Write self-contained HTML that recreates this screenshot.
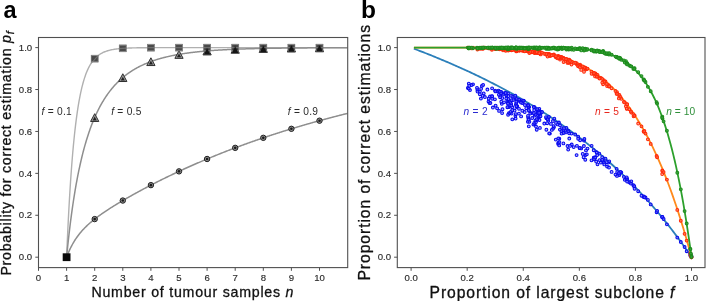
<!DOCTYPE html>
<html><head><meta charset="utf-8"><title>figure</title>
<style>
html,body{margin:0;padding:0;background:#fff;width:707px;height:301px;overflow:hidden}
body{font-family:"Liberation Sans",sans-serif;position:relative}
</style></head>
<body>
<svg width="707" height="301" viewBox="0 0 707 301" style="display:block;position:absolute;left:0;top:0;will-change:transform">
<rect x="0" y="0" width="707" height="301" fill="#ffffff"/>
<defs><clipPath id="cl"><rect x="38.5" y="37.5" width="309.2" height="230.1"/></clipPath>
<clipPath id="cr"><rect x="397.3" y="37.5" width="307.7" height="230.1"/></clipPath></defs>
<polyline clip-path="url(#cl)" fill="none" stroke="#b0b0b0" stroke-width="1.4" stroke-linejoin="round" points="66.60,257.20 67.16,244.04 67.72,231.79 68.29,220.36 68.85,209.69 69.41,199.74 69.97,190.45 70.53,181.76 71.10,173.64 71.66,166.05 72.22,158.95 72.78,152.30 73.34,146.08 73.91,140.25 74.47,134.79 75.03,129.67 75.59,124.87 76.15,120.36 76.72,116.14 77.28,112.17 77.84,108.44 78.40,104.95 78.96,101.66 79.53,98.57 80.09,95.67 80.65,92.94 81.21,90.37 81.77,87.96 82.34,85.69 82.90,83.55 83.46,81.54 84.02,79.64 84.58,77.86 85.15,76.18 85.71,74.59 86.27,73.10 86.83,71.70 87.39,70.37 87.96,69.12 88.52,67.94 89.08,66.83 89.64,65.78 90.20,64.79 90.77,63.86 91.33,62.98 91.89,62.14 92.45,61.36 93.01,60.62 93.58,59.92 94.14,59.26 94.70,58.63 95.26,58.04 95.82,57.48 96.39,56.96 96.95,56.46 97.51,55.99 98.07,55.54 98.63,55.12 99.20,54.72 99.76,54.35 100.32,53.99 100.88,53.66 101.44,53.34 102.01,53.04 102.57,52.75 103.13,52.48 103.69,52.23 104.25,51.98 104.82,51.76 105.38,51.54 105.94,51.33 106.50,51.14 107.06,50.96 107.63,50.78 108.19,50.62 108.75,50.46 109.31,50.31 109.87,50.17 110.44,50.04 111.00,49.92 111.56,49.80 112.12,49.68 112.68,49.58 113.25,49.48 113.81,49.38 114.37,49.29 114.93,49.20 115.49,49.12 116.06,49.04 116.62,48.97 117.18,48.90 117.74,48.83 118.30,48.77 118.87,48.71 119.43,48.66 119.99,48.60 120.55,48.55 121.11,48.50 121.68,48.46 122.24,48.41 122.80,48.37 123.36,48.33 123.92,48.30 124.49,48.26 125.05,48.23 125.61,48.20 126.17,48.17 126.73,48.14 127.30,48.11 127.86,48.09 128.42,48.06 128.98,48.04 129.54,48.02 130.11,48.00 130.67,47.98 131.23,47.96 131.79,47.94 132.35,47.92 132.92,47.91 133.48,47.89 134.04,47.88 134.60,47.86 135.16,47.85 135.73,47.84 136.29,47.83 136.85,47.81 137.41,47.80 137.97,47.79 138.54,47.78 139.10,47.78 139.66,47.77 140.22,47.76 140.78,47.75 141.35,47.74 141.91,47.74 142.47,47.73 143.03,47.72 143.59,47.72 144.16,47.71 144.72,47.71 145.28,47.70 145.84,47.70 146.40,47.69 146.97,47.69 147.53,47.68 148.09,47.68 148.65,47.67 149.21,47.67 149.78,47.67 150.34,47.66 150.90,47.66 151.46,47.66 152.02,47.66 152.59,47.65 153.15,47.65 153.71,47.65 154.27,47.65 154.83,47.64 155.40,47.64 155.96,47.64 156.52,47.64 157.08,47.64 157.64,47.63 158.21,47.63 158.77,47.63 159.33,47.63 159.89,47.63 160.45,47.63 161.02,47.62 161.58,47.62 162.14,47.62 162.70,47.62 163.26,47.62 163.83,47.62 164.39,47.62 164.95,47.62 165.51,47.62 166.07,47.62 166.64,47.62 167.20,47.61 167.76,47.61 168.32,47.61 168.88,47.61 169.45,47.61 170.01,47.61 170.57,47.61 171.13,47.61 171.69,47.61 172.26,47.61 172.82,47.61 173.38,47.61 173.94,47.61 174.50,47.61 175.07,47.61 175.63,47.61 176.19,47.61 176.75,47.61 177.31,47.61 177.88,47.61 178.44,47.61 179.00,47.61 179.56,47.60 180.12,47.60 180.69,47.60 181.25,47.60 181.81,47.60 182.37,47.60 182.93,47.60 183.50,47.60 184.06,47.60 184.62,47.60 185.18,47.60 185.74,47.60 186.31,47.60 186.87,47.60 187.43,47.60 187.99,47.60 188.55,47.60 189.12,47.60 189.68,47.60 190.24,47.60 190.80,47.60 191.36,47.60 191.93,47.60 192.49,47.60 193.05,47.60 193.61,47.60 194.17,47.60 194.74,47.60 195.30,47.60 195.86,47.60 196.42,47.60 196.98,47.60 197.55,47.60 198.11,47.60 198.67,47.60 199.23,47.60 199.79,47.60 200.36,47.60 200.92,47.60 201.48,47.60 202.04,47.60 202.60,47.60 203.17,47.60 203.73,47.60 204.29,47.60 204.85,47.60 205.41,47.60 205.98,47.60 206.54,47.60 207.10,47.60 207.66,47.60 208.22,47.60 208.79,47.60 209.35,47.60 209.91,47.60 210.47,47.60 211.03,47.60 211.60,47.60 212.16,47.60 212.72,47.60 213.28,47.60 213.84,47.60 214.41,47.60 214.97,47.60 215.53,47.60 216.09,47.60 216.65,47.60 217.22,47.60 217.78,47.60 218.34,47.60 218.90,47.60 219.46,47.60 220.03,47.60 220.59,47.60 221.15,47.60 221.71,47.60 222.27,47.60 222.84,47.60 223.40,47.60 223.96,47.60 224.52,47.60 225.08,47.60 225.65,47.60 226.21,47.60 226.77,47.60 227.33,47.60 227.89,47.60 228.46,47.60 229.02,47.60 229.58,47.60 230.14,47.60 230.70,47.60 231.27,47.60 231.83,47.60 232.39,47.60 232.95,47.60 233.51,47.60 234.08,47.60 234.64,47.60 235.20,47.60 235.76,47.60 236.32,47.60 236.89,47.60 237.45,47.60 238.01,47.60 238.57,47.60 239.13,47.60 239.70,47.60 240.26,47.60 240.82,47.60 241.38,47.60 241.94,47.60 242.51,47.60 243.07,47.60 243.63,47.60 244.19,47.60 244.75,47.60 245.32,47.60 245.88,47.60 246.44,47.60 247.00,47.60 247.56,47.60 248.13,47.60 248.69,47.60 249.25,47.60 249.81,47.60 250.37,47.60 250.94,47.60 251.50,47.60 252.06,47.60 252.62,47.60 253.18,47.60 253.75,47.60 254.31,47.60 254.87,47.60 255.43,47.60 255.99,47.60 256.56,47.60 257.12,47.60 257.68,47.60 258.24,47.60 258.80,47.60 259.37,47.60 259.93,47.60 260.49,47.60 261.05,47.60 261.61,47.60 262.18,47.60 262.74,47.60 263.30,47.60 263.86,47.60 264.42,47.60 264.99,47.60 265.55,47.60 266.11,47.60 266.67,47.60 267.23,47.60 267.80,47.60 268.36,47.60 268.92,47.60 269.48,47.60 270.04,47.60 270.61,47.60 271.17,47.60 271.73,47.60 272.29,47.60 272.85,47.60 273.42,47.60 273.98,47.60 274.54,47.60 275.10,47.60 275.66,47.60 276.23,47.60 276.79,47.60 277.35,47.60 277.91,47.60 278.47,47.60 279.04,47.60 279.60,47.60 280.16,47.60 280.72,47.60 281.28,47.60 281.85,47.60 282.41,47.60 282.97,47.60 283.53,47.60 284.09,47.60 284.66,47.60 285.22,47.60 285.78,47.60 286.34,47.60 286.90,47.60 287.47,47.60 288.03,47.60 288.59,47.60 289.15,47.60 289.71,47.60 290.28,47.60 290.84,47.60 291.40,47.60 291.96,47.60 292.52,47.60 293.09,47.60 293.65,47.60 294.21,47.60 294.77,47.60 295.33,47.60 295.90,47.60 296.46,47.60 297.02,47.60 297.58,47.60 298.14,47.60 298.71,47.60 299.27,47.60 299.83,47.60 300.39,47.60 300.95,47.60 301.52,47.60 302.08,47.60 302.64,47.60 303.20,47.60 303.76,47.60 304.33,47.60 304.89,47.60 305.45,47.60 306.01,47.60 306.57,47.60 307.14,47.60 307.70,47.60 308.26,47.60 308.82,47.60 309.38,47.60 309.95,47.60 310.51,47.60 311.07,47.60 311.63,47.60 312.19,47.60 312.76,47.60 313.32,47.60 313.88,47.60 314.44,47.60 315.00,47.60 315.57,47.60 316.13,47.60 316.69,47.60 317.25,47.60 317.81,47.60 318.38,47.60 318.94,47.60 319.50,47.60 320.06,47.60 320.62,47.60 321.19,47.60 321.75,47.60 322.31,47.60 322.87,47.60 323.43,47.60 324.00,47.60 324.56,47.60 325.12,47.60 325.68,47.60 326.24,47.60 326.81,47.60 327.37,47.60 327.93,47.60 328.49,47.60 329.05,47.60 329.62,47.60 330.18,47.60 330.74,47.60 331.30,47.60 331.86,47.60 332.43,47.60 332.99,47.60 333.55,47.60 334.11,47.60 334.67,47.60 335.24,47.60 335.80,47.60 336.36,47.60 336.92,47.60 337.48,47.60 338.05,47.60 338.61,47.60 339.17,47.60 339.73,47.60 340.29,47.60 340.86,47.60 341.42,47.60 341.98,47.60 342.54,47.60 343.10,47.60 343.67,47.60 344.23,47.60 344.79,47.60 345.35,47.60 345.91,47.60 346.48,47.60 347.04,47.60 347.60,47.60"/>
<polyline clip-path="url(#cl)" fill="none" stroke="#8e8e8e" stroke-width="1.5" stroke-linejoin="round" points="66.60,257.20 67.16,251.51 67.72,246.04 68.29,240.79 68.85,235.74 69.41,230.89 69.97,226.22 70.53,221.71 71.10,217.38 71.66,213.19 72.22,209.15 72.78,205.26 73.34,201.49 73.91,197.86 74.47,194.34 75.03,190.94 75.59,187.65 76.15,184.46 76.72,181.37 77.28,178.38 77.84,175.48 78.40,172.67 78.96,169.94 79.53,167.30 80.09,164.73 80.65,162.23 81.21,159.81 81.77,157.46 82.34,155.17 82.90,152.94 83.46,150.78 84.02,148.67 84.58,146.62 85.15,144.63 85.71,142.69 86.27,140.80 86.83,138.95 87.39,137.16 87.96,135.41 88.52,133.70 89.08,132.04 89.64,130.42 90.20,128.84 90.77,127.29 91.33,125.79 91.89,124.32 92.45,122.88 93.01,121.48 93.58,120.11 94.14,118.77 94.70,117.47 95.26,116.19 95.82,114.94 96.39,113.72 96.95,112.53 97.51,111.36 98.07,110.22 98.63,109.11 99.20,108.02 99.76,106.95 100.32,105.91 100.88,104.88 101.44,103.88 102.01,102.90 102.57,101.95 103.13,101.01 103.69,100.09 104.25,99.19 104.82,98.31 105.38,97.44 105.94,96.59 106.50,95.76 107.06,94.95 107.63,94.16 108.19,93.37 108.75,92.61 109.31,91.86 109.87,91.12 110.44,90.40 111.00,89.69 111.56,89.00 112.12,88.32 112.68,87.65 113.25,87.00 113.81,86.35 114.37,85.72 114.93,85.10 115.49,84.50 116.06,83.90 116.62,83.32 117.18,82.74 117.74,82.18 118.30,81.62 118.87,81.08 119.43,80.55 119.99,80.02 120.55,79.51 121.11,79.00 121.68,78.51 122.24,78.02 122.80,77.54 123.36,77.07 123.92,76.61 124.49,76.16 125.05,75.71 125.61,75.27 126.17,74.84 126.73,74.42 127.30,74.00 127.86,73.60 128.42,73.19 128.98,72.80 129.54,72.41 130.11,72.03 130.67,71.65 131.23,71.29 131.79,70.92 132.35,70.57 132.92,70.22 133.48,69.87 134.04,69.53 134.60,69.20 135.16,68.87 135.73,68.55 136.29,68.23 136.85,67.92 137.41,67.62 137.97,67.31 138.54,67.02 139.10,66.73 139.66,66.44 140.22,66.16 140.78,65.88 141.35,65.61 141.91,65.34 142.47,65.07 143.03,64.81 143.59,64.56 144.16,64.30 144.72,64.06 145.28,63.81 145.84,63.57 146.40,63.34 146.97,63.10 147.53,62.87 148.09,62.65 148.65,62.43 149.21,62.21 149.78,61.99 150.34,61.78 150.90,61.57 151.46,61.37 152.02,61.17 152.59,60.97 153.15,60.77 153.71,60.58 154.27,60.39 154.83,60.20 155.40,60.02 155.96,59.84 156.52,59.66 157.08,59.48 157.64,59.31 158.21,59.14 158.77,58.97 159.33,58.81 159.89,58.65 160.45,58.49 161.02,58.33 161.58,58.17 162.14,58.02 162.70,57.87 163.26,57.72 163.83,57.58 164.39,57.43 164.95,57.29 165.51,57.15 166.07,57.01 166.64,56.88 167.20,56.75 167.76,56.61 168.32,56.49 168.88,56.36 169.45,56.23 170.01,56.11 170.57,55.99 171.13,55.87 171.69,55.75 172.26,55.63 172.82,55.52 173.38,55.40 173.94,55.29 174.50,55.18 175.07,55.07 175.63,54.97 176.19,54.86 176.75,54.76 177.31,54.66 177.88,54.56 178.44,54.46 179.00,54.36 179.56,54.27 180.12,54.17 180.69,54.08 181.25,53.99 181.81,53.89 182.37,53.81 182.93,53.72 183.50,53.63 184.06,53.55 184.62,53.46 185.18,53.38 185.74,53.30 186.31,53.22 186.87,53.14 187.43,53.06 187.99,52.98 188.55,52.91 189.12,52.83 189.68,52.76 190.24,52.68 190.80,52.61 191.36,52.54 191.93,52.47 192.49,52.40 193.05,52.34 193.61,52.27 194.17,52.20 194.74,52.14 195.30,52.08 195.86,52.01 196.42,51.95 196.98,51.89 197.55,51.83 198.11,51.77 198.67,51.71 199.23,51.65 199.79,51.60 200.36,51.54 200.92,51.49 201.48,51.43 202.04,51.38 202.60,51.32 203.17,51.27 203.73,51.22 204.29,51.17 204.85,51.12 205.41,51.07 205.98,51.02 206.54,50.97 207.10,50.93 207.66,50.88 208.22,50.83 208.79,50.79 209.35,50.74 209.91,50.70 210.47,50.66 211.03,50.61 211.60,50.57 212.16,50.53 212.72,50.49 213.28,50.45 213.84,50.41 214.41,50.37 214.97,50.33 215.53,50.29 216.09,50.26 216.65,50.22 217.22,50.18 217.78,50.15 218.34,50.11 218.90,50.08 219.46,50.04 220.03,50.01 220.59,49.97 221.15,49.94 221.71,49.91 222.27,49.88 222.84,49.85 223.40,49.81 223.96,49.78 224.52,49.75 225.08,49.72 225.65,49.69 226.21,49.66 226.77,49.64 227.33,49.61 227.89,49.58 228.46,49.55 229.02,49.52 229.58,49.50 230.14,49.47 230.70,49.45 231.27,49.42 231.83,49.39 232.39,49.37 232.95,49.35 233.51,49.32 234.08,49.30 234.64,49.27 235.20,49.25 235.76,49.23 236.32,49.20 236.89,49.18 237.45,49.16 238.01,49.14 238.57,49.12 239.13,49.10 239.70,49.08 240.26,49.06 240.82,49.04 241.38,49.02 241.94,49.00 242.51,48.98 243.07,48.96 243.63,48.94 244.19,48.92 244.75,48.90 245.32,48.88 245.88,48.87 246.44,48.85 247.00,48.83 247.56,48.81 248.13,48.80 248.69,48.78 249.25,48.76 249.81,48.75 250.37,48.73 250.94,48.72 251.50,48.70 252.06,48.69 252.62,48.67 253.18,48.66 253.75,48.64 254.31,48.63 254.87,48.61 255.43,48.60 255.99,48.59 256.56,48.57 257.12,48.56 257.68,48.54 258.24,48.53 258.80,48.52 259.37,48.51 259.93,48.49 260.49,48.48 261.05,48.47 261.61,48.46 262.18,48.45 262.74,48.43 263.30,48.42 263.86,48.41 264.42,48.40 264.99,48.39 265.55,48.38 266.11,48.37 266.67,48.36 267.23,48.35 267.80,48.34 268.36,48.33 268.92,48.32 269.48,48.31 270.04,48.30 270.61,48.29 271.17,48.28 271.73,48.27 272.29,48.26 272.85,48.25 273.42,48.24 273.98,48.23 274.54,48.22 275.10,48.21 275.66,48.21 276.23,48.20 276.79,48.19 277.35,48.18 277.91,48.17 278.47,48.16 279.04,48.16 279.60,48.15 280.16,48.14 280.72,48.13 281.28,48.13 281.85,48.12 282.41,48.11 282.97,48.11 283.53,48.10 284.09,48.09 284.66,48.08 285.22,48.08 285.78,48.07 286.34,48.06 286.90,48.06 287.47,48.05 288.03,48.05 288.59,48.04 289.15,48.03 289.71,48.03 290.28,48.02 290.84,48.02 291.40,48.01 291.96,48.00 292.52,48.00 293.09,47.99 293.65,47.99 294.21,47.98 294.77,47.98 295.33,47.97 295.90,47.97 296.46,47.96 297.02,47.96 297.58,47.95 298.14,47.95 298.71,47.94 299.27,47.94 299.83,47.93 300.39,47.93 300.95,47.92 301.52,47.92 302.08,47.92 302.64,47.91 303.20,47.91 303.76,47.90 304.33,47.90 304.89,47.89 305.45,47.89 306.01,47.89 306.57,47.88 307.14,47.88 307.70,47.87 308.26,47.87 308.82,47.87 309.38,47.86 309.95,47.86 310.51,47.86 311.07,47.85 311.63,47.85 312.19,47.85 312.76,47.84 313.32,47.84 313.88,47.84 314.44,47.83 315.00,47.83 315.57,47.83 316.13,47.82 316.69,47.82 317.25,47.82 317.81,47.81 318.38,47.81 318.94,47.81 319.50,47.80 320.06,47.80 320.62,47.80 321.19,47.80 321.75,47.79 322.31,47.79 322.87,47.79 323.43,47.79 324.00,47.78 324.56,47.78 325.12,47.78 325.68,47.78 326.24,47.77 326.81,47.77 327.37,47.77 327.93,47.77 328.49,47.76 329.05,47.76 329.62,47.76 330.18,47.76 330.74,47.76 331.30,47.75 331.86,47.75 332.43,47.75 332.99,47.75 333.55,47.74 334.11,47.74 334.67,47.74 335.24,47.74 335.80,47.74 336.36,47.74 336.92,47.73 337.48,47.73 338.05,47.73 338.61,47.73 339.17,47.73 339.73,47.72 340.29,47.72 340.86,47.72 341.42,47.72 341.98,47.72 342.54,47.72 343.10,47.71 343.67,47.71 344.23,47.71 344.79,47.71 345.35,47.71 345.91,47.71 346.48,47.71 347.04,47.70 347.60,47.70"/>
<polyline clip-path="url(#cl)" fill="none" stroke="#8e8e8e" stroke-width="1.5" stroke-linejoin="round" points="66.60,257.20 67.16,255.72 67.72,254.30 68.29,252.94 68.85,251.63 69.41,250.37 69.97,249.16 70.53,248.00 71.10,246.87 71.66,245.79 72.22,244.75 72.78,243.74 73.34,242.76 73.91,241.82 74.47,240.90 75.03,240.01 75.59,239.15 76.15,238.32 76.72,237.51 77.28,236.72 77.84,235.95 78.40,235.21 78.96,234.48 79.53,233.77 80.09,233.08 80.65,232.40 81.21,231.74 81.77,231.10 82.34,230.47 82.90,229.85 83.46,229.25 84.02,228.65 84.58,228.07 85.15,227.50 85.71,226.94 86.27,226.40 86.83,225.86 87.39,225.33 87.96,224.80 88.52,224.29 89.08,223.78 89.64,223.29 90.20,222.79 90.77,222.31 91.33,221.83 91.89,221.36 92.45,220.90 93.01,220.44 93.58,219.98 94.14,219.53 94.70,219.09 95.26,218.65 95.82,218.22 96.39,217.79 96.95,217.36 97.51,216.94 98.07,216.52 98.63,216.11 99.20,215.70 99.76,215.29 100.32,214.89 100.88,214.49 101.44,214.09 102.01,213.70 102.57,213.31 103.13,212.92 103.69,212.54 104.25,212.15 104.82,211.77 105.38,211.40 105.94,211.02 106.50,210.65 107.06,210.28 107.63,209.91 108.19,209.54 108.75,209.17 109.31,208.81 109.87,208.45 110.44,208.09 111.00,207.73 111.56,207.38 112.12,207.02 112.68,206.67 113.25,206.32 113.81,205.97 114.37,205.62 114.93,205.27 115.49,204.93 116.06,204.58 116.62,204.24 117.18,203.90 117.74,203.56 118.30,203.22 118.87,202.88 119.43,202.55 119.99,202.21 120.55,201.88 121.11,201.54 121.68,201.21 122.24,200.88 122.80,200.55 123.36,200.22 123.92,199.89 124.49,199.57 125.05,199.24 125.61,198.92 126.17,198.59 126.73,198.27 127.30,197.95 127.86,197.63 128.42,197.31 128.98,196.99 129.54,196.67 130.11,196.35 130.67,196.03 131.23,195.72 131.79,195.40 132.35,195.09 132.92,194.78 133.48,194.46 134.04,194.15 134.60,193.84 135.16,193.53 135.73,193.22 136.29,192.91 136.85,192.60 137.41,192.30 137.97,191.99 138.54,191.68 139.10,191.38 139.66,191.07 140.22,190.77 140.78,190.47 141.35,190.17 141.91,189.86 142.47,189.56 143.03,189.26 143.59,188.96 144.16,188.66 144.72,188.37 145.28,188.07 145.84,187.77 146.40,187.48 146.97,187.18 147.53,186.89 148.09,186.59 148.65,186.30 149.21,186.01 149.78,185.71 150.34,185.42 150.90,185.13 151.46,184.84 152.02,184.55 152.59,184.26 153.15,183.98 153.71,183.69 154.27,183.40 154.83,183.11 155.40,182.83 155.96,182.54 156.52,182.26 157.08,181.98 157.64,181.69 158.21,181.41 158.77,181.13 159.33,180.85 159.89,180.57 160.45,180.29 161.02,180.01 161.58,179.73 162.14,179.45 162.70,179.17 163.26,178.89 163.83,178.62 164.39,178.34 164.95,178.07 165.51,177.79 166.07,177.52 166.64,177.24 167.20,176.97 167.76,176.70 168.32,176.43 168.88,176.15 169.45,175.88 170.01,175.61 170.57,175.34 171.13,175.07 171.69,174.81 172.26,174.54 172.82,174.27 173.38,174.00 173.94,173.74 174.50,173.47 175.07,173.21 175.63,172.94 176.19,172.68 176.75,172.42 177.31,172.15 177.88,171.89 178.44,171.63 179.00,171.37 179.56,171.11 180.12,170.85 180.69,170.59 181.25,170.33 181.81,170.07 182.37,169.81 182.93,169.56 183.50,169.30 184.06,169.04 184.62,168.79 185.18,168.53 185.74,168.28 186.31,168.02 186.87,167.77 187.43,167.52 187.99,167.26 188.55,167.01 189.12,166.76 189.68,166.51 190.24,166.26 190.80,166.01 191.36,165.76 191.93,165.51 192.49,165.26 193.05,165.02 193.61,164.77 194.17,164.52 194.74,164.28 195.30,164.03 195.86,163.79 196.42,163.54 196.98,163.30 197.55,163.05 198.11,162.81 198.67,162.57 199.23,162.33 199.79,162.08 200.36,161.84 200.92,161.60 201.48,161.36 202.04,161.12 202.60,160.88 203.17,160.65 203.73,160.41 204.29,160.17 204.85,159.93 205.41,159.70 205.98,159.46 206.54,159.23 207.10,158.99 207.66,158.76 208.22,158.52 208.79,158.29 209.35,158.06 209.91,157.82 210.47,157.59 211.03,157.36 211.60,157.13 212.16,156.90 212.72,156.67 213.28,156.44 213.84,156.21 214.41,155.98 214.97,155.75 215.53,155.52 216.09,155.30 216.65,155.07 217.22,154.84 217.78,154.62 218.34,154.39 218.90,154.17 219.46,153.94 220.03,153.72 220.59,153.50 221.15,153.27 221.71,153.05 222.27,152.83 222.84,152.61 223.40,152.39 223.96,152.17 224.52,151.95 225.08,151.73 225.65,151.51 226.21,151.29 226.77,151.07 227.33,150.85 227.89,150.64 228.46,150.42 229.02,150.20 229.58,149.99 230.14,149.77 230.70,149.56 231.27,149.34 231.83,149.13 232.39,148.91 232.95,148.70 233.51,148.49 234.08,148.27 234.64,148.06 235.20,147.85 235.76,147.64 236.32,147.43 236.89,147.22 237.45,147.01 238.01,146.80 238.57,146.59 239.13,146.38 239.70,146.18 240.26,145.97 240.82,145.76 241.38,145.55 241.94,145.35 242.51,145.14 243.07,144.94 243.63,144.73 244.19,144.53 244.75,144.32 245.32,144.12 245.88,143.92 246.44,143.71 247.00,143.51 247.56,143.31 248.13,143.11 248.69,142.91 249.25,142.71 249.81,142.51 250.37,142.31 250.94,142.11 251.50,141.91 252.06,141.71 252.62,141.51 253.18,141.31 253.75,141.12 254.31,140.92 254.87,140.72 255.43,140.53 255.99,140.33 256.56,140.14 257.12,139.94 257.68,139.75 258.24,139.55 258.80,139.36 259.37,139.17 259.93,138.97 260.49,138.78 261.05,138.59 261.61,138.40 262.18,138.21 262.74,138.02 263.30,137.83 263.86,137.64 264.42,137.45 264.99,137.26 265.55,137.07 266.11,136.88 266.67,136.69 267.23,136.50 267.80,136.32 268.36,136.13 268.92,135.94 269.48,135.76 270.04,135.57 270.61,135.39 271.17,135.20 271.73,135.02 272.29,134.83 272.85,134.65 273.42,134.47 273.98,134.28 274.54,134.10 275.10,133.92 275.66,133.74 276.23,133.56 276.79,133.38 277.35,133.20 277.91,133.02 278.47,132.84 279.04,132.66 279.60,132.48 280.16,132.30 280.72,132.12 281.28,131.94 281.85,131.76 282.41,131.59 282.97,131.41 283.53,131.23 284.09,131.06 284.66,130.88 285.22,130.71 285.78,130.53 286.34,130.36 286.90,130.18 287.47,130.01 288.03,129.84 288.59,129.66 289.15,129.49 289.71,129.32 290.28,129.15 290.84,128.97 291.40,128.80 291.96,128.63 292.52,128.46 293.09,128.29 293.65,128.12 294.21,127.95 294.77,127.78 295.33,127.61 295.90,127.45 296.46,127.28 297.02,127.11 297.58,126.94 298.14,126.78 298.71,126.61 299.27,126.44 299.83,126.28 300.39,126.11 300.95,125.95 301.52,125.78 302.08,125.62 302.64,125.45 303.20,125.29 303.76,125.12 304.33,124.96 304.89,124.80 305.45,124.64 306.01,124.47 306.57,124.31 307.14,124.15 307.70,123.99 308.26,123.83 308.82,123.67 309.38,123.51 309.95,123.35 310.51,123.19 311.07,123.03 311.63,122.87 312.19,122.71 312.76,122.55 313.32,122.40 313.88,122.24 314.44,122.08 315.00,121.93 315.57,121.77 316.13,121.61 316.69,121.46 317.25,121.30 317.81,121.15 318.38,120.99 318.94,120.84 319.50,120.68 320.06,120.53 320.62,120.38 321.19,120.22 321.75,120.07 322.31,119.92 322.87,119.76 323.43,119.61 324.00,119.46 324.56,119.31 325.12,119.16 325.68,119.01 326.24,118.86 326.81,118.71 327.37,118.56 327.93,118.41 328.49,118.26 329.05,118.11 329.62,117.96 330.18,117.81 330.74,117.67 331.30,117.52 331.86,117.37 332.43,117.23 332.99,117.08 333.55,116.93 334.11,116.79 334.67,116.64 335.24,116.50 335.80,116.35 336.36,116.21 336.92,116.06 337.48,115.92 338.05,115.77 338.61,115.63 339.17,115.49 339.73,115.34 340.29,115.20 340.86,115.06 341.42,114.92 341.98,114.78 342.54,114.63 343.10,114.49 343.67,114.35 344.23,114.21 344.79,114.07 345.35,113.93 345.91,113.79 346.48,113.65 347.04,113.51 347.60,113.37"/>
<path d="M94.70 113.69 L98.82 121.46 L90.58 121.46 Z" fill="#9a9a9a" stroke="#2e2e2e" stroke-width="1"/>
<path d="M94.70 116.58 L96.76 120.46 L92.64 120.46 Z" fill="#222"/>
<path d="M122.80 73.76 L126.92 81.53 L118.68 81.53 Z" fill="#9a9a9a" stroke="#2e2e2e" stroke-width="1"/>
<path d="M122.80 76.65 L124.86 80.54 L120.74 80.54 Z" fill="#222"/>
<path d="M150.90 57.79 L155.02 65.56 L146.78 65.56 Z" fill="#9a9a9a" stroke="#2e2e2e" stroke-width="1"/>
<path d="M150.90 60.68 L152.96 64.57 L148.84 64.57 Z" fill="#222"/>
<path d="M179.00 50.58 L183.12 58.35 L174.88 58.35 Z" fill="#9a9a9a" stroke="#2e2e2e" stroke-width="1"/>
<path d="M179.00 53.47 L181.06 57.36 L176.94 57.36 Z" fill="#222"/>
<path d="M207.10 47.15 L211.22 54.92 L202.98 54.92 Z" fill="#9a9a9a" stroke="#2e2e2e" stroke-width="1"/>
<path d="M207.10 50.04 L209.16 53.92 L205.04 53.92 Z" fill="#222"/>
<path d="M235.20 45.47 L239.32 53.24 L231.08 53.24 Z" fill="#9a9a9a" stroke="#2e2e2e" stroke-width="1"/>
<path d="M235.20 48.36 L237.26 52.25 L233.14 52.25 Z" fill="#222"/>
<path d="M263.30 44.64 L267.42 52.41 L259.18 52.41 Z" fill="#9a9a9a" stroke="#2e2e2e" stroke-width="1"/>
<path d="M263.30 47.53 L265.36 51.42 L261.24 51.42 Z" fill="#222"/>
<path d="M291.40 44.23 L295.52 52.00 L287.28 52.00 Z" fill="#9a9a9a" stroke="#2e2e2e" stroke-width="1"/>
<path d="M291.40 47.12 L293.46 51.01 L289.34 51.01 Z" fill="#222"/>
<path d="M319.50 44.02 L323.62 51.79 L315.38 51.79 Z" fill="#9a9a9a" stroke="#2e2e2e" stroke-width="1"/>
<path d="M319.50 46.91 L321.56 50.80 L317.44 50.80 Z" fill="#222"/>
<rect x="91.10" y="55.03" width="7.2" height="7.2" fill="#3c3c3c" fill-opacity="0.93"/>
<path d="M91.10 55.33 h7.2 M91.10 61.93 h7.2" stroke="#9c9c9c" stroke-width="0.9" fill="none"/>
<path d="M91.30 55.03 v7.2 M98.10 55.03 v7.2" stroke="#7a7a7a" stroke-width="0.7" fill="none"/>
<rect x="119.20" y="44.77" width="7.2" height="7.2" fill="#3c3c3c" fill-opacity="0.93"/>
<path d="M119.20 45.07 h7.2 M119.20 51.67 h7.2" stroke="#9c9c9c" stroke-width="0.9" fill="none"/>
<path d="M119.40 44.77 v7.2 M126.20 44.77 v7.2" stroke="#7a7a7a" stroke-width="0.7" fill="none"/>
<rect x="147.30" y="44.06" width="7.2" height="7.2" fill="#3c3c3c" fill-opacity="0.93"/>
<path d="M147.30 44.36 h7.2 M147.30 50.96 h7.2" stroke="#9c9c9c" stroke-width="0.9" fill="none"/>
<path d="M147.50 44.06 v7.2 M154.30 44.06 v7.2" stroke="#7a7a7a" stroke-width="0.7" fill="none"/>
<rect x="175.40" y="44.01" width="7.2" height="7.2" fill="#3c3c3c" fill-opacity="0.93"/>
<path d="M175.40 44.31 h7.2 M175.40 50.91 h7.2" stroke="#9c9c9c" stroke-width="0.9" fill="none"/>
<path d="M175.60 44.01 v7.2 M182.40 44.01 v7.2" stroke="#7a7a7a" stroke-width="0.7" fill="none"/>
<rect x="203.50" y="44.00" width="7.2" height="7.2" fill="#3c3c3c" fill-opacity="0.93"/>
<path d="M203.50 44.30 h7.2 M203.50 50.90 h7.2" stroke="#9c9c9c" stroke-width="0.9" fill="none"/>
<path d="M203.70 44.00 v7.2 M210.50 44.00 v7.2" stroke="#7a7a7a" stroke-width="0.7" fill="none"/>
<rect x="231.60" y="44.00" width="7.2" height="7.2" fill="#3c3c3c" fill-opacity="0.93"/>
<path d="M231.60 44.30 h7.2 M231.60 50.90 h7.2" stroke="#9c9c9c" stroke-width="0.9" fill="none"/>
<path d="M231.80 44.00 v7.2 M238.60 44.00 v7.2" stroke="#7a7a7a" stroke-width="0.7" fill="none"/>
<rect x="259.70" y="44.00" width="7.2" height="7.2" fill="#3c3c3c" fill-opacity="0.93"/>
<path d="M259.70 44.30 h7.2 M259.70 50.90 h7.2" stroke="#9c9c9c" stroke-width="0.9" fill="none"/>
<path d="M259.90 44.00 v7.2 M266.70 44.00 v7.2" stroke="#7a7a7a" stroke-width="0.7" fill="none"/>
<rect x="287.80" y="44.00" width="7.2" height="7.2" fill="#3c3c3c" fill-opacity="0.93"/>
<path d="M287.80 44.30 h7.2 M287.80 50.90 h7.2" stroke="#9c9c9c" stroke-width="0.9" fill="none"/>
<path d="M288.00 44.00 v7.2 M294.80 44.00 v7.2" stroke="#7a7a7a" stroke-width="0.7" fill="none"/>
<rect x="315.90" y="44.00" width="7.2" height="7.2" fill="#3c3c3c" fill-opacity="0.93"/>
<path d="M315.90 44.30 h7.2 M315.90 50.90 h7.2" stroke="#9c9c9c" stroke-width="0.9" fill="none"/>
<path d="M316.10 44.00 v7.2 M322.90 44.00 v7.2" stroke="#7a7a7a" stroke-width="0.7" fill="none"/>
<line x1="91.10" y1="63.32" x2="98.30" y2="55.37" stroke="#8c8c8c" stroke-opacity="0.6" stroke-width="1.2"/>
<line x1="119.20" y1="48.68" x2="126.40" y2="48.16" stroke="#8c8c8c" stroke-opacity="0.6" stroke-width="1.2"/>
<line x1="147.30" y1="47.68" x2="154.50" y2="47.64" stroke="#8c8c8c" stroke-opacity="0.6" stroke-width="1.2"/>
<line x1="175.40" y1="47.61" x2="182.60" y2="47.60" stroke="#8c8c8c" stroke-opacity="0.6" stroke-width="1.2"/>
<line x1="203.50" y1="47.60" x2="210.70" y2="47.60" stroke="#8c8c8c" stroke-opacity="0.6" stroke-width="1.2"/>
<line x1="231.60" y1="47.60" x2="238.80" y2="47.60" stroke="#8c8c8c" stroke-opacity="0.6" stroke-width="1.2"/>
<line x1="259.70" y1="47.60" x2="266.90" y2="47.60" stroke="#8c8c8c" stroke-opacity="0.6" stroke-width="1.2"/>
<line x1="287.80" y1="47.60" x2="295.00" y2="47.60" stroke="#8c8c8c" stroke-opacity="0.6" stroke-width="1.2"/>
<line x1="315.90" y1="47.60" x2="323.10" y2="47.60" stroke="#8c8c8c" stroke-opacity="0.6" stroke-width="1.2"/>
<path d="M207.10 48.27 L210.43 54.56 L203.77 54.56 Z" fill="#141414"/>
<path d="M235.20 46.59 L238.53 52.88 L231.87 52.88 Z" fill="#141414"/>
<path d="M263.30 45.76 L266.63 52.05 L259.97 52.05 Z" fill="#141414"/>
<path d="M291.40 45.35 L294.73 51.64 L288.07 51.64 Z" fill="#141414"/>
<path d="M319.50 45.14 L322.83 51.43 L316.17 51.43 Z" fill="#141414"/>
<rect x="62.70" y="253.30" width="7.8" height="7.8" fill="#0a0a0a"/>
<circle cx="94.70" cy="219.09" r="2.7" fill="#8f8f8f" stroke="#1e1e1e" stroke-width="1"/>
<circle cx="94.70" cy="219.09" r="1.3" fill="#1a1a1a"/>
<circle cx="122.80" cy="200.55" r="2.7" fill="#8f8f8f" stroke="#1e1e1e" stroke-width="1"/>
<circle cx="122.80" cy="200.55" r="1.3" fill="#1a1a1a"/>
<circle cx="150.90" cy="185.13" r="2.7" fill="#8f8f8f" stroke="#1e1e1e" stroke-width="1"/>
<circle cx="150.90" cy="185.13" r="1.3" fill="#1a1a1a"/>
<circle cx="179.00" cy="171.37" r="2.7" fill="#8f8f8f" stroke="#1e1e1e" stroke-width="1"/>
<circle cx="179.00" cy="171.37" r="1.3" fill="#1a1a1a"/>
<circle cx="207.10" cy="158.99" r="2.7" fill="#8f8f8f" stroke="#1e1e1e" stroke-width="1"/>
<circle cx="207.10" cy="158.99" r="1.3" fill="#1a1a1a"/>
<circle cx="235.20" cy="147.85" r="2.7" fill="#8f8f8f" stroke="#1e1e1e" stroke-width="1"/>
<circle cx="235.20" cy="147.85" r="1.3" fill="#1a1a1a"/>
<circle cx="263.30" cy="137.83" r="2.7" fill="#8f8f8f" stroke="#1e1e1e" stroke-width="1"/>
<circle cx="263.30" cy="137.83" r="1.3" fill="#1a1a1a"/>
<circle cx="291.40" cy="128.80" r="2.7" fill="#8f8f8f" stroke="#1e1e1e" stroke-width="1"/>
<circle cx="291.40" cy="128.80" r="1.3" fill="#1a1a1a"/>
<circle cx="319.50" cy="120.68" r="2.7" fill="#8f8f8f" stroke="#1e1e1e" stroke-width="1"/>
<circle cx="319.50" cy="120.68" r="1.3" fill="#1a1a1a"/>
<rect x="38.5" y="37.5" width="309.2" height="230.1" fill="none" stroke="#505050" stroke-width="1.1"/>
<line x1="38.50" y1="267.6" x2="38.50" y2="270.8" stroke="#505050" stroke-width="1"/>
<text x="38.50" y="281" font-family='"Liberation Sans", sans-serif' font-size="9.6" fill="#2c2c2c" stroke="#2c2c2c" stroke-width="0.15" text-anchor="middle">0</text>
<line x1="66.60" y1="267.6" x2="66.60" y2="270.8" stroke="#505050" stroke-width="1"/>
<text x="66.60" y="281" font-family='"Liberation Sans", sans-serif' font-size="9.6" fill="#2c2c2c" stroke="#2c2c2c" stroke-width="0.15" text-anchor="middle">1</text>
<line x1="94.70" y1="267.6" x2="94.70" y2="270.8" stroke="#505050" stroke-width="1"/>
<text x="94.70" y="281" font-family='"Liberation Sans", sans-serif' font-size="9.6" fill="#2c2c2c" stroke="#2c2c2c" stroke-width="0.15" text-anchor="middle">2</text>
<line x1="122.80" y1="267.6" x2="122.80" y2="270.8" stroke="#505050" stroke-width="1"/>
<text x="122.80" y="281" font-family='"Liberation Sans", sans-serif' font-size="9.6" fill="#2c2c2c" stroke="#2c2c2c" stroke-width="0.15" text-anchor="middle">3</text>
<line x1="150.90" y1="267.6" x2="150.90" y2="270.8" stroke="#505050" stroke-width="1"/>
<text x="150.90" y="281" font-family='"Liberation Sans", sans-serif' font-size="9.6" fill="#2c2c2c" stroke="#2c2c2c" stroke-width="0.15" text-anchor="middle">4</text>
<line x1="179.00" y1="267.6" x2="179.00" y2="270.8" stroke="#505050" stroke-width="1"/>
<text x="179.00" y="281" font-family='"Liberation Sans", sans-serif' font-size="9.6" fill="#2c2c2c" stroke="#2c2c2c" stroke-width="0.15" text-anchor="middle">5</text>
<line x1="207.10" y1="267.6" x2="207.10" y2="270.8" stroke="#505050" stroke-width="1"/>
<text x="207.10" y="281" font-family='"Liberation Sans", sans-serif' font-size="9.6" fill="#2c2c2c" stroke="#2c2c2c" stroke-width="0.15" text-anchor="middle">6</text>
<line x1="235.20" y1="267.6" x2="235.20" y2="270.8" stroke="#505050" stroke-width="1"/>
<text x="235.20" y="281" font-family='"Liberation Sans", sans-serif' font-size="9.6" fill="#2c2c2c" stroke="#2c2c2c" stroke-width="0.15" text-anchor="middle">7</text>
<line x1="263.30" y1="267.6" x2="263.30" y2="270.8" stroke="#505050" stroke-width="1"/>
<text x="263.30" y="281" font-family='"Liberation Sans", sans-serif' font-size="9.6" fill="#2c2c2c" stroke="#2c2c2c" stroke-width="0.15" text-anchor="middle">8</text>
<line x1="291.40" y1="267.6" x2="291.40" y2="270.8" stroke="#505050" stroke-width="1"/>
<text x="291.40" y="281" font-family='"Liberation Sans", sans-serif' font-size="9.6" fill="#2c2c2c" stroke="#2c2c2c" stroke-width="0.15" text-anchor="middle">9</text>
<line x1="319.50" y1="267.6" x2="319.50" y2="270.8" stroke="#505050" stroke-width="1"/>
<text x="319.50" y="281" font-family='"Liberation Sans", sans-serif' font-size="9.6" fill="#2c2c2c" stroke="#2c2c2c" stroke-width="0.15" text-anchor="middle">10</text>
<line x1="35.3" y1="257.20" x2="38.5" y2="257.20" stroke="#505050" stroke-width="1"/>
<text x="32.2" y="260.40" font-family='"Liberation Sans", sans-serif' font-size="9.6" fill="#2c2c2c" stroke="#2c2c2c" stroke-width="0.15" text-anchor="end">0.0</text>
<line x1="35.3" y1="215.28" x2="38.5" y2="215.28" stroke="#505050" stroke-width="1"/>
<text x="32.2" y="218.48" font-family='"Liberation Sans", sans-serif' font-size="9.6" fill="#2c2c2c" stroke="#2c2c2c" stroke-width="0.15" text-anchor="end">0.2</text>
<line x1="35.3" y1="173.36" x2="38.5" y2="173.36" stroke="#505050" stroke-width="1"/>
<text x="32.2" y="176.56" font-family='"Liberation Sans", sans-serif' font-size="9.6" fill="#2c2c2c" stroke="#2c2c2c" stroke-width="0.15" text-anchor="end">0.4</text>
<line x1="35.3" y1="131.44" x2="38.5" y2="131.44" stroke="#505050" stroke-width="1"/>
<text x="32.2" y="134.64" font-family='"Liberation Sans", sans-serif' font-size="9.6" fill="#2c2c2c" stroke="#2c2c2c" stroke-width="0.15" text-anchor="end">0.6</text>
<line x1="35.3" y1="89.52" x2="38.5" y2="89.52" stroke="#505050" stroke-width="1"/>
<text x="32.2" y="92.72" font-family='"Liberation Sans", sans-serif' font-size="9.6" fill="#2c2c2c" stroke="#2c2c2c" stroke-width="0.15" text-anchor="end">0.8</text>
<line x1="35.3" y1="47.60" x2="38.5" y2="47.60" stroke="#505050" stroke-width="1"/>
<text x="32.2" y="50.80" font-family='"Liberation Sans", sans-serif' font-size="9.6" fill="#2c2c2c" stroke="#2c2c2c" stroke-width="0.15" text-anchor="end">1.0</text>
<text x="41.6" y="114.9" font-family='"Liberation Sans", sans-serif' font-size="10.2" fill="#2a2a2a" style="white-space:pre;letter-spacing:0.25px"><tspan font-style="italic">f</tspan> = 0.1</text>
<text x="111.2" y="114.9" font-family='"Liberation Sans", sans-serif' font-size="10.2" fill="#2a2a2a" style="white-space:pre;letter-spacing:0.25px"><tspan font-style="italic">f</tspan> = 0.5</text>
<text x="287.8" y="114.9" font-family='"Liberation Sans", sans-serif' font-size="10.2" fill="#2a2a2a" style="white-space:pre;letter-spacing:0.25px"><tspan font-style="italic">f</tspan> = 0.9</text>
<text x="91.4" y="297.0" font-family='"Liberation Sans", sans-serif' font-size="14.2" fill="#111" stroke="#111" stroke-width="0.3" textLength="202" lengthAdjust="spacing">Number of tumour samples <tspan font-style="italic">n</tspan></text>
<g transform="translate(11.4,275.6) rotate(-90)"><text x="0" y="0" font-family='"Liberation Sans", sans-serif' font-size="14.2" fill="#111" stroke="#111" stroke-width="0.3" textLength="240.5" lengthAdjust="spacing">Probability for correct estimation <tspan font-style="italic">p</tspan></text>
<text x="241.4" y="2.3" font-family='"Liberation Sans", sans-serif' font-size="11" font-style="italic" fill="#111" stroke="#111" stroke-width="0.25">f</text></g>
<text x="3.4" y="17.7" font-family='"Liberation Sans", sans-serif' font-size="23.5" font-weight="bold" fill="#000">a</text>
<text x="361.0" y="17.7" font-family='"Liberation Sans", sans-serif' font-size="24.5" font-weight="bold" fill="#000">b</text>
<polyline fill="none" stroke="#2b7fba" stroke-width="1.8" stroke-linejoin="round" points="413.90,48.65 415.31,49.18 416.71,49.72 418.11,50.25 419.51,50.79 420.91,51.33 422.32,51.88 423.72,52.42 425.12,52.97 426.52,53.53 427.92,54.08 429.33,54.64 430.73,55.20 432.13,55.77 433.53,56.33 434.93,56.90 436.34,57.48 437.74,58.05 439.14,58.63 440.54,59.21 441.94,59.80 443.35,60.39 444.75,60.98 446.15,61.57 447.55,62.17 448.95,62.77 450.36,63.38 451.76,63.98 453.16,64.59 454.56,65.21 455.96,65.83 457.37,66.45 458.77,67.07 460.17,67.70 461.57,68.33 462.97,68.96 464.38,69.60 465.78,70.24 467.18,70.89 468.58,71.54 469.98,72.19 471.39,72.85 472.79,73.51 474.19,74.17 475.59,74.84 476.99,75.51 478.40,76.18 479.80,76.86 481.20,77.54 482.60,78.23 484.00,78.92 485.41,79.61 486.81,80.31 488.21,81.01 489.61,81.72 491.01,82.43 492.42,83.15 493.82,83.87 495.22,84.59 496.62,85.32 498.02,86.05 499.43,86.78 500.83,87.52 502.23,88.27 503.63,89.02 505.03,89.77 506.44,90.53 507.84,91.29 509.24,92.06 510.64,92.83 512.04,93.61 513.45,94.39 514.85,95.18 516.25,95.97 517.65,96.77 519.05,97.57 520.46,98.37 521.86,99.18 523.26,100.00 524.66,100.82 526.06,101.65 527.47,102.48 528.87,103.32 530.27,104.16 531.67,105.01 533.07,105.86 534.48,106.72 535.88,107.58 537.28,108.45 538.68,109.33 540.08,110.21 541.49,111.09 542.89,111.99 544.29,112.89 545.69,113.79 547.09,114.70 548.50,115.62 549.90,116.54 551.30,117.47 552.70,118.40 554.10,119.34 555.51,120.29 556.91,121.24 558.31,122.20 559.71,123.17 561.11,124.14 562.52,125.12 563.92,126.11 565.32,127.10 566.72,128.10 568.12,129.11 569.53,130.13 570.93,131.15 572.33,132.18 573.73,133.21 575.13,134.25 576.54,135.30 577.94,136.36 579.34,137.43 580.74,138.50 582.14,139.58 583.55,140.67 584.95,141.77 586.35,142.87 587.75,143.99 589.15,145.11 590.56,146.24 591.96,147.37 593.36,148.52 594.76,149.67 596.16,150.84 597.57,152.01 598.97,153.19 600.37,154.38 601.77,155.58 603.17,156.78 604.58,158.00 605.98,159.23 607.38,160.46 608.78,161.71 610.18,162.96 611.59,164.23 612.99,165.50 614.39,166.78 615.79,168.08 617.19,169.38 618.60,170.70 620.00,172.02 621.40,173.36 622.80,174.71 624.20,176.06 625.61,177.43 627.01,178.81 628.41,180.20 629.81,181.61 631.21,183.02 632.62,184.45 634.02,185.88 635.42,187.33 636.82,188.79 638.22,190.27 639.63,191.76 641.03,193.25 642.43,194.77 643.83,196.29 645.23,197.83 646.64,199.38 648.04,200.94 649.44,202.52 650.84,204.11 652.24,205.72 653.65,207.34 655.05,208.97 656.45,210.62 657.85,212.29 659.25,213.96 660.66,215.66 662.06,217.37 663.46,219.09 664.86,220.83 666.26,222.59 667.67,224.36 669.07,226.15 670.47,227.95 671.87,229.78 673.27,231.62 674.68,233.47 676.08,235.35 677.48,237.24 678.88,239.15 680.28,241.08 681.69,243.02 683.09,244.99 684.49,246.98 685.89,248.98 687.29,251.00 688.70,253.05 690.10,255.11 691.50,257.20"/>
<g fill="#7c7cff" fill-opacity="0.6" stroke="#0808ee" stroke-width="1.05"><circle cx="477.4" cy="89.7" r="1.4"/><circle cx="603.1" cy="161.2" r="1.4"/><circle cx="515.9" cy="104.6" r="1.4"/><circle cx="686.7" cy="251.2" r="1.4"/><circle cx="528.8" cy="126.3" r="1.4"/><circle cx="470.0" cy="90.1" r="1.4"/><circle cx="468.8" cy="83.6" r="1.4"/><circle cx="479.8" cy="94.2" r="1.4"/><circle cx="501.8" cy="103.8" r="1.4"/><circle cx="538.5" cy="117.2" r="1.4"/><circle cx="507.3" cy="101.0" r="1.4"/><circle cx="504.0" cy="102.3" r="1.4"/><circle cx="546.4" cy="118.3" r="1.4"/><circle cx="626.8" cy="179.6" r="1.4"/><circle cx="690.3" cy="255.4" r="1.4"/><circle cx="605.5" cy="158.7" r="1.4"/><circle cx="534.6" cy="124.4" r="1.4"/><circle cx="569.2" cy="133.3" r="1.4"/><circle cx="594.0" cy="157.7" r="1.4"/><circle cx="503.3" cy="93.3" r="1.4"/><circle cx="467.9" cy="88.0" r="1.4"/><circle cx="508.0" cy="93.3" r="1.4"/><circle cx="593.8" cy="157.7" r="1.4"/><circle cx="506.3" cy="95.3" r="1.4"/><circle cx="633.6" cy="185.8" r="1.4"/><circle cx="608.4" cy="162.6" r="1.4"/><circle cx="508.9" cy="113.2" r="1.4"/><circle cx="528.2" cy="117.7" r="1.4"/><circle cx="578.2" cy="136.6" r="1.4"/><circle cx="634.6" cy="188.7" r="1.4"/><circle cx="558.2" cy="143.9" r="1.4"/><circle cx="515.6" cy="118.5" r="1.4"/><circle cx="491.9" cy="96.5" r="1.4"/><circle cx="512.3" cy="107.2" r="1.4"/><circle cx="534.7" cy="115.6" r="1.4"/><circle cx="508.1" cy="114.7" r="1.4"/><circle cx="586.0" cy="150.4" r="1.4"/><circle cx="566.4" cy="127.8" r="1.4"/><circle cx="549.9" cy="133.6" r="1.4"/><circle cx="585.5" cy="155.0" r="1.4"/><circle cx="567.5" cy="146.0" r="1.4"/><circle cx="560.0" cy="125.3" r="1.4"/><circle cx="666.9" cy="224.3" r="1.4"/><circle cx="537.4" cy="111.1" r="1.4"/><circle cx="548.2" cy="117.6" r="1.4"/><circle cx="511.2" cy="103.9" r="1.4"/><circle cx="500.3" cy="95.6" r="1.4"/><circle cx="510.5" cy="101.9" r="1.4"/><circle cx="527.7" cy="105.0" r="1.4"/><circle cx="580.1" cy="140.2" r="1.4"/><circle cx="502.3" cy="98.1" r="1.4"/><circle cx="643.6" cy="196.9" r="1.4"/><circle cx="517.3" cy="106.2" r="1.4"/><circle cx="512.5" cy="96.3" r="1.4"/><circle cx="527.9" cy="121.7" r="1.4"/><circle cx="563.2" cy="132.1" r="1.4"/><circle cx="531.8" cy="113.1" r="1.4"/><circle cx="607.1" cy="166.5" r="1.4"/><circle cx="633.4" cy="185.1" r="1.4"/><circle cx="529.4" cy="121.8" r="1.4"/><circle cx="535.5" cy="114.5" r="1.4"/><circle cx="534.2" cy="110.0" r="1.4"/><circle cx="518.9" cy="113.6" r="1.4"/><circle cx="533.4" cy="124.6" r="1.4"/><circle cx="596.5" cy="152.3" r="1.4"/><circle cx="516.6" cy="107.0" r="1.4"/><circle cx="480.9" cy="98.6" r="1.4"/><circle cx="513.0" cy="100.0" r="1.4"/><circle cx="561.4" cy="131.0" r="1.4"/><circle cx="537.2" cy="119.7" r="1.4"/><circle cx="645.5" cy="197.5" r="1.4"/><circle cx="625.9" cy="178.8" r="1.4"/><circle cx="629.3" cy="182.4" r="1.4"/><circle cx="468.8" cy="88.6" r="1.4"/><circle cx="529.2" cy="107.1" r="1.4"/><circle cx="488.5" cy="101.6" r="1.4"/><circle cx="489.5" cy="103.1" r="1.4"/><circle cx="677.3" cy="237.6" r="1.4"/><circle cx="617.0" cy="175.9" r="1.4"/><circle cx="600.9" cy="162.5" r="1.4"/><circle cx="481.9" cy="85.9" r="1.4"/><circle cx="523.7" cy="100.9" r="1.4"/><circle cx="539.5" cy="120.0" r="1.4"/><circle cx="500.1" cy="97.2" r="1.4"/><circle cx="498.6" cy="90.6" r="1.4"/><circle cx="516.4" cy="106.1" r="1.4"/><circle cx="539.5" cy="111.4" r="1.4"/><circle cx="539.4" cy="111.9" r="1.4"/><circle cx="624.8" cy="179.8" r="1.4"/><circle cx="528.5" cy="106.6" r="1.4"/><circle cx="509.0" cy="107.1" r="1.4"/><circle cx="616.6" cy="168.8" r="1.4"/><circle cx="507.6" cy="102.9" r="1.4"/><circle cx="548.3" cy="120.7" r="1.4"/><circle cx="519.6" cy="101.1" r="1.4"/><circle cx="583.6" cy="157.2" r="1.4"/><circle cx="534.3" cy="122.9" r="1.4"/><circle cx="603.7" cy="162.5" r="1.4"/><circle cx="573.7" cy="147.1" r="1.4"/><circle cx="505.8" cy="93.9" r="1.4"/><circle cx="559.3" cy="138.7" r="1.4"/><circle cx="539.3" cy="108.8" r="1.4"/><circle cx="595.4" cy="157.2" r="1.4"/><circle cx="515.3" cy="95.7" r="1.4"/><circle cx="565.6" cy="131.0" r="1.4"/><circle cx="599.3" cy="153.6" r="1.4"/><circle cx="547.2" cy="123.2" r="1.4"/><circle cx="662.3" cy="217.0" r="1.4"/><circle cx="523.6" cy="100.6" r="1.4"/><circle cx="576.9" cy="145.8" r="1.4"/><circle cx="571.5" cy="133.6" r="1.4"/><circle cx="540.2" cy="111.7" r="1.4"/><circle cx="538.2" cy="115.7" r="1.4"/><circle cx="555.8" cy="139.6" r="1.4"/><circle cx="540.3" cy="112.5" r="1.4"/><circle cx="609.0" cy="167.5" r="1.4"/><circle cx="526.3" cy="108.2" r="1.4"/><circle cx="643.8" cy="196.3" r="1.4"/><circle cx="584.0" cy="140.5" r="1.4"/><circle cx="522.4" cy="103.1" r="1.4"/><circle cx="511.5" cy="100.2" r="1.4"/><circle cx="508.5" cy="96.0" r="1.4"/><circle cx="539.6" cy="116.3" r="1.4"/><circle cx="529.1" cy="110.9" r="1.4"/><circle cx="501.2" cy="91.8" r="1.4"/><circle cx="611.6" cy="171.9" r="1.4"/><circle cx="583.9" cy="146.0" r="1.4"/><circle cx="549.2" cy="133.4" r="1.4"/><circle cx="510.0" cy="113.3" r="1.4"/><circle cx="650.7" cy="204.4" r="1.4"/><circle cx="604.3" cy="164.4" r="1.4"/><circle cx="597.2" cy="155.0" r="1.4"/><circle cx="482.7" cy="95.8" r="1.4"/><circle cx="511.3" cy="105.6" r="1.4"/><circle cx="505.2" cy="93.0" r="1.4"/><circle cx="627.1" cy="178.8" r="1.4"/><circle cx="488.7" cy="98.5" r="1.4"/><circle cx="626.7" cy="177.4" r="1.4"/><circle cx="483.7" cy="93.4" r="1.4"/><circle cx="644.4" cy="197.3" r="1.4"/><circle cx="547.6" cy="118.8" r="1.4"/><circle cx="540.5" cy="116.2" r="1.4"/><circle cx="499.1" cy="110.9" r="1.4"/><circle cx="554.3" cy="118.7" r="1.4"/><circle cx="581.2" cy="148.4" r="1.4"/><circle cx="540.7" cy="113.3" r="1.4"/><circle cx="533.9" cy="113.0" r="1.4"/><circle cx="585.3" cy="159.7" r="1.4"/><circle cx="505.7" cy="92.9" r="1.4"/><circle cx="553.9" cy="127.3" r="1.4"/><circle cx="547.7" cy="119.0" r="1.4"/><circle cx="562.0" cy="128.1" r="1.4"/><circle cx="647.9" cy="199.9" r="1.4"/><circle cx="662.5" cy="217.3" r="1.4"/><circle cx="606.9" cy="162.2" r="1.4"/><circle cx="534.5" cy="107.1" r="1.4"/><circle cx="536.0" cy="122.1" r="1.4"/><circle cx="621.3" cy="172.4" r="1.4"/><circle cx="552.9" cy="121.0" r="1.4"/><circle cx="553.0" cy="128.7" r="1.4"/><circle cx="546.0" cy="117.1" r="1.4"/><circle cx="503.0" cy="94.6" r="1.4"/><circle cx="496.9" cy="91.3" r="1.4"/><circle cx="627.1" cy="181.6" r="1.4"/><circle cx="492.1" cy="88.3" r="1.4"/><circle cx="538.4" cy="111.1" r="1.4"/><circle cx="586.8" cy="154.3" r="1.4"/><circle cx="515.4" cy="115.8" r="1.4"/><circle cx="619.4" cy="174.2" r="1.4"/><circle cx="553.6" cy="126.1" r="1.4"/><circle cx="473.0" cy="84.3" r="1.4"/><circle cx="498.9" cy="94.7" r="1.4"/><circle cx="528.0" cy="115.9" r="1.4"/><circle cx="587.5" cy="148.6" r="1.4"/><circle cx="617.2" cy="172.1" r="1.4"/><circle cx="502.5" cy="109.2" r="1.4"/><circle cx="492.2" cy="98.7" r="1.4"/><circle cx="602.2" cy="157.2" r="1.4"/><circle cx="544.3" cy="123.5" r="1.4"/><circle cx="490.4" cy="103.0" r="1.4"/><circle cx="528.2" cy="105.3" r="1.4"/><circle cx="558.4" cy="143.0" r="1.4"/><circle cx="684.6" cy="247.0" r="1.4"/><circle cx="593.7" cy="150.2" r="1.4"/><circle cx="641.5" cy="195.7" r="1.4"/><circle cx="522.3" cy="110.7" r="1.4"/><circle cx="494.9" cy="99.3" r="1.4"/><circle cx="499.8" cy="91.7" r="1.4"/><circle cx="550.9" cy="123.9" r="1.4"/><circle cx="558.6" cy="143.1" r="1.4"/><circle cx="537.9" cy="112.5" r="1.4"/><circle cx="568.5" cy="130.9" r="1.4"/><circle cx="537.3" cy="109.1" r="1.4"/><circle cx="558.9" cy="122.5" r="1.4"/><circle cx="477.0" cy="87.8" r="1.4"/><circle cx="511.6" cy="113.5" r="1.4"/><circle cx="487.4" cy="89.5" r="1.4"/><circle cx="631.3" cy="181.3" r="1.4"/><circle cx="662.2" cy="216.9" r="1.4"/><circle cx="609.2" cy="161.3" r="1.4"/><circle cx="539.9" cy="127.9" r="1.4"/><circle cx="561.6" cy="133.6" r="1.4"/><circle cx="514.6" cy="110.5" r="1.4"/><circle cx="599.5" cy="160.1" r="1.4"/><circle cx="559.9" cy="129.6" r="1.4"/><circle cx="495.6" cy="105.6" r="1.4"/><circle cx="559.2" cy="145.4" r="1.4"/><circle cx="495.1" cy="90.6" r="1.4"/><circle cx="501.3" cy="101.7" r="1.4"/><circle cx="548.9" cy="116.9" r="1.4"/><circle cx="533.7" cy="107.0" r="1.4"/><circle cx="521.7" cy="100.3" r="1.4"/><circle cx="563.4" cy="143.4" r="1.4"/><circle cx="619.4" cy="175.1" r="1.4"/><circle cx="516.3" cy="103.1" r="1.4"/><circle cx="638.2" cy="191.2" r="1.4"/><circle cx="623.9" cy="176.8" r="1.4"/><circle cx="567.9" cy="131.3" r="1.4"/><circle cx="520.6" cy="101.6" r="1.4"/><circle cx="492.9" cy="107.5" r="1.4"/><circle cx="508.1" cy="107.1" r="1.4"/><circle cx="576.6" cy="155.1" r="1.4"/><circle cx="471.6" cy="85.0" r="1.4"/><circle cx="521.0" cy="102.5" r="1.4"/><circle cx="568.2" cy="149.6" r="1.4"/><circle cx="579.6" cy="148.1" r="1.4"/><circle cx="479.9" cy="91.6" r="1.4"/><circle cx="536.0" cy="126.5" r="1.4"/><circle cx="575.2" cy="134.5" r="1.4"/><circle cx="508.3" cy="99.2" r="1.4"/><circle cx="507.4" cy="107.2" r="1.4"/><circle cx="542.0" cy="112.0" r="1.4"/><circle cx="501.1" cy="93.3" r="1.4"/><circle cx="663.6" cy="219.0" r="1.4"/><circle cx="528.8" cy="119.4" r="1.4"/><circle cx="557.4" cy="124.4" r="1.4"/><circle cx="510.7" cy="111.8" r="1.4"/><circle cx="656.6" cy="212.2" r="1.4"/><circle cx="546.4" cy="129.7" r="1.4"/><circle cx="620.4" cy="171.9" r="1.4"/><circle cx="584.4" cy="139.0" r="1.4"/><circle cx="551.8" cy="129.9" r="1.4"/><circle cx="591.6" cy="145.8" r="1.4"/><circle cx="532.2" cy="118.0" r="1.4"/><circle cx="528.6" cy="119.5" r="1.4"/><circle cx="591.5" cy="160.3" r="1.4"/><circle cx="602.3" cy="159.8" r="1.4"/><circle cx="539.3" cy="112.6" r="1.4"/><circle cx="490.0" cy="96.5" r="1.4"/><circle cx="497.1" cy="108.3" r="1.4"/><circle cx="596.2" cy="161.5" r="1.4"/><circle cx="539.1" cy="112.9" r="1.4"/><circle cx="595.1" cy="157.7" r="1.4"/><circle cx="571.7" cy="144.5" r="1.4"/><circle cx="524.9" cy="105.0" r="1.4"/><circle cx="535.5" cy="120.4" r="1.4"/><circle cx="563.9" cy="128.1" r="1.4"/><circle cx="556.0" cy="122.9" r="1.4"/><circle cx="484.9" cy="97.0" r="1.4"/><circle cx="536.6" cy="119.1" r="1.4"/><circle cx="594.0" cy="159.3" r="1.4"/><circle cx="569.3" cy="138.5" r="1.4"/><circle cx="559.4" cy="142.1" r="1.4"/><circle cx="524.7" cy="112.0" r="1.4"/><circle cx="566.0" cy="132.4" r="1.4"/><circle cx="519.1" cy="99.6" r="1.4"/><circle cx="528.7" cy="110.0" r="1.4"/><circle cx="481.1" cy="88.8" r="1.4"/><circle cx="634.3" cy="186.2" r="1.4"/><circle cx="630.9" cy="183.5" r="1.4"/><circle cx="519.0" cy="108.8" r="1.4"/><circle cx="508.1" cy="103.5" r="1.4"/><circle cx="536.7" cy="129.7" r="1.4"/><circle cx="483.1" cy="84.9" r="1.4"/><circle cx="597.5" cy="164.3" r="1.4"/><circle cx="511.0" cy="95.8" r="1.4"/><circle cx="469.2" cy="85.8" r="1.4"/><circle cx="615.5" cy="174.6" r="1.4"/><circle cx="657.1" cy="210.8" r="1.4"/><circle cx="515.9" cy="98.4" r="1.4"/><circle cx="512.2" cy="110.1" r="1.4"/><circle cx="515.8" cy="114.2" r="1.4"/><circle cx="596.8" cy="152.5" r="1.4"/><circle cx="492.1" cy="96.2" r="1.4"/><circle cx="570.1" cy="145.9" r="1.4"/><circle cx="506.3" cy="98.5" r="1.4"/><circle cx="521.1" cy="116.4" r="1.4"/><circle cx="578.2" cy="138.7" r="1.4"/><circle cx="558.3" cy="138.3" r="1.4"/><circle cx="618.9" cy="173.1" r="1.4"/><circle cx="477.5" cy="91.5" r="1.4"/><circle cx="495.4" cy="91.4" r="1.4"/><circle cx="530.3" cy="113.5" r="1.4"/><circle cx="516.7" cy="99.1" r="1.4"/><circle cx="516.3" cy="101.5" r="1.4"/><circle cx="512.3" cy="119.3" r="1.4"/><circle cx="579.7" cy="147.9" r="1.4"/><circle cx="582.7" cy="153.9" r="1.4"/><circle cx="502.1" cy="113.1" r="1.4"/><circle cx="563.6" cy="133.0" r="1.4"/><circle cx="680.8" cy="242.0" r="1.4"/><circle cx="690.4" cy="253.7" r="1.4"/><circle cx="690.9" cy="255.4" r="1.4"/><circle cx="691.4" cy="257.2" r="1.4"/><circle cx="691.5" cy="256.3" r="1.4"/></g>
<polyline fill="none" stroke="#ff8a1c" stroke-width="1.8" stroke-linejoin="round" points="413.90,47.60 415.31,47.60 416.71,47.60 418.11,47.60 419.51,47.60 420.91,47.60 422.32,47.60 423.72,47.60 425.12,47.60 426.52,47.60 427.92,47.60 429.33,47.60 430.73,47.60 432.13,47.60 433.53,47.60 434.93,47.60 436.34,47.60 437.74,47.60 439.14,47.61 440.54,47.61 441.94,47.61 443.35,47.61 444.75,47.61 446.15,47.61 447.55,47.62 448.95,47.62 450.36,47.62 451.76,47.62 453.16,47.63 454.56,47.63 455.96,47.64 457.37,47.64 458.77,47.65 460.17,47.66 461.57,47.66 462.97,47.67 464.38,47.68 465.78,47.69 467.18,47.70 468.58,47.71 469.98,47.72 471.39,47.74 472.79,47.75 474.19,47.77 475.59,47.78 476.99,47.80 478.40,47.82 479.80,47.85 481.20,47.87 482.60,47.89 484.00,47.92 485.41,47.95 486.81,47.98 488.21,48.01 489.61,48.05 491.01,48.08 492.42,48.12 493.82,48.17 495.22,48.21 496.62,48.26 498.02,48.31 499.43,48.37 500.83,48.42 502.23,48.48 503.63,48.55 505.03,48.62 506.44,48.69 507.84,48.76 509.24,48.85 510.64,48.93 512.04,49.02 513.45,49.11 514.85,49.21 516.25,49.32 517.65,49.43 519.05,49.54 520.46,49.67 521.86,49.79 523.26,49.93 524.66,50.07 526.06,50.22 527.47,50.37 528.87,50.53 530.27,50.70 531.67,50.88 533.07,51.06 534.48,51.26 535.88,51.46 537.28,51.67 538.68,51.89 540.08,52.12 541.49,52.37 542.89,52.62 544.29,52.88 545.69,53.15 547.09,53.44 548.50,53.73 549.90,54.04 551.30,54.36 552.70,54.69 554.10,55.04 555.51,55.40 556.91,55.78 558.31,56.17 559.71,56.57 561.11,56.99 562.52,57.43 563.92,57.88 565.32,58.35 566.72,58.83 568.12,59.34 569.53,59.86 570.93,60.40 572.33,60.96 573.73,61.54 575.13,62.14 576.54,62.76 577.94,63.40 579.34,64.07 580.74,64.75 582.14,65.46 583.55,66.20 584.95,66.96 586.35,67.74 587.75,68.55 589.15,69.38 590.56,70.24 591.96,71.13 593.36,72.05 594.76,72.99 596.16,73.97 597.57,74.97 598.97,76.01 600.37,77.08 601.77,78.18 603.17,79.31 604.58,80.48 605.98,81.68 607.38,82.91 608.78,84.19 610.18,85.49 611.59,86.84 612.99,88.23 614.39,89.65 615.79,91.11 617.19,92.62 618.60,94.17 620.00,95.75 621.40,97.39 622.80,99.06 624.20,100.79 625.61,102.56 627.01,104.37 628.41,106.23 629.81,108.15 631.21,110.11 632.62,112.12 634.02,114.19 635.42,116.30 636.82,118.48 638.22,120.70 639.63,122.98 641.03,125.32 642.43,127.72 643.83,130.17 645.23,132.69 646.64,135.27 648.04,137.91 649.44,140.61 650.84,143.37 652.24,146.21 653.65,149.11 655.05,152.07 656.45,155.11 657.85,158.22 659.25,161.39 660.66,164.64 662.06,167.97 663.46,171.37 664.86,174.84 666.26,178.40 667.67,182.03 669.07,185.74 670.47,189.54 671.87,193.42 673.27,197.38 674.68,201.43 676.08,205.56 677.48,209.78 678.88,214.10 680.28,218.50 681.69,223.00 683.09,227.59 684.49,232.28 685.89,237.06 687.29,241.94 688.70,246.93 690.10,252.01 691.50,257.20"/>
<g fill="#ff7a5a" fill-opacity="0.6" stroke="#ff2a0a" stroke-width="1.05"><circle cx="477.4" cy="49.5" r="1.4"/><circle cx="603.1" cy="84.2" r="1.4"/><circle cx="515.9" cy="49.1" r="1.4"/><circle cx="686.7" cy="240.6" r="1.4"/><circle cx="528.8" cy="50.7" r="1.4"/><circle cx="470.0" cy="47.9" r="1.4"/><circle cx="468.8" cy="47.6" r="1.4"/><circle cx="479.8" cy="48.2" r="1.4"/><circle cx="501.8" cy="47.9" r="1.4"/><circle cx="538.5" cy="52.3" r="1.4"/><circle cx="507.3" cy="49.4" r="1.4"/><circle cx="504.0" cy="48.3" r="1.4"/><circle cx="546.4" cy="54.0" r="1.4"/><circle cx="626.8" cy="108.8" r="1.4"/><circle cx="690.3" cy="253.1" r="1.4"/><circle cx="605.5" cy="81.5" r="1.4"/><circle cx="534.6" cy="52.5" r="1.4"/><circle cx="569.2" cy="62.7" r="1.4"/><circle cx="594.0" cy="73.6" r="1.4"/><circle cx="503.3" cy="48.4" r="1.4"/><circle cx="467.9" cy="47.6" r="1.4"/><circle cx="508.0" cy="48.9" r="1.4"/><circle cx="593.8" cy="73.0" r="1.4"/><circle cx="506.3" cy="49.5" r="1.4"/><circle cx="633.6" cy="116.3" r="1.4"/><circle cx="608.4" cy="85.2" r="1.4"/><circle cx="508.9" cy="48.3" r="1.4"/><circle cx="528.2" cy="51.6" r="1.4"/><circle cx="578.2" cy="65.8" r="1.4"/><circle cx="634.6" cy="115.5" r="1.4"/><circle cx="558.2" cy="56.0" r="1.4"/><circle cx="515.6" cy="48.8" r="1.4"/><circle cx="491.9" cy="49.7" r="1.4"/><circle cx="512.3" cy="49.8" r="1.4"/><circle cx="534.7" cy="51.2" r="1.4"/><circle cx="508.1" cy="50.2" r="1.4"/><circle cx="586.0" cy="69.4" r="1.4"/><circle cx="566.4" cy="59.0" r="1.4"/><circle cx="549.9" cy="56.1" r="1.4"/><circle cx="585.5" cy="68.2" r="1.4"/><circle cx="567.5" cy="62.9" r="1.4"/><circle cx="560.0" cy="59.6" r="1.4"/><circle cx="666.9" cy="179.6" r="1.4"/><circle cx="537.4" cy="52.9" r="1.4"/><circle cx="548.2" cy="54.2" r="1.4"/><circle cx="511.2" cy="49.0" r="1.4"/><circle cx="500.3" cy="48.2" r="1.4"/><circle cx="510.5" cy="49.0" r="1.4"/><circle cx="527.7" cy="50.6" r="1.4"/><circle cx="580.1" cy="64.7" r="1.4"/><circle cx="502.3" cy="49.0" r="1.4"/><circle cx="643.6" cy="131.3" r="1.4"/><circle cx="517.3" cy="49.4" r="1.4"/><circle cx="512.5" cy="49.4" r="1.4"/><circle cx="527.9" cy="51.0" r="1.4"/><circle cx="563.2" cy="57.9" r="1.4"/><circle cx="531.8" cy="52.2" r="1.4"/><circle cx="607.1" cy="86.0" r="1.4"/><circle cx="633.4" cy="114.2" r="1.4"/><circle cx="529.4" cy="53.1" r="1.4"/><circle cx="535.5" cy="51.4" r="1.4"/><circle cx="534.2" cy="52.1" r="1.4"/><circle cx="518.9" cy="50.5" r="1.4"/><circle cx="533.4" cy="51.9" r="1.4"/><circle cx="596.5" cy="75.4" r="1.4"/><circle cx="516.6" cy="51.0" r="1.4"/><circle cx="480.9" cy="48.2" r="1.4"/><circle cx="513.0" cy="49.2" r="1.4"/><circle cx="561.4" cy="57.5" r="1.4"/><circle cx="537.2" cy="52.7" r="1.4"/><circle cx="645.5" cy="133.6" r="1.4"/><circle cx="625.9" cy="106.2" r="1.4"/><circle cx="629.3" cy="109.2" r="1.4"/><circle cx="468.8" cy="48.0" r="1.4"/><circle cx="529.2" cy="50.7" r="1.4"/><circle cx="488.5" cy="48.1" r="1.4"/><circle cx="489.5" cy="48.2" r="1.4"/><circle cx="677.3" cy="209.9" r="1.4"/><circle cx="617.0" cy="92.2" r="1.4"/><circle cx="600.9" cy="77.9" r="1.4"/><circle cx="481.9" cy="47.6" r="1.4"/><circle cx="523.7" cy="50.0" r="1.4"/><circle cx="539.5" cy="52.5" r="1.4"/><circle cx="500.1" cy="48.9" r="1.4"/><circle cx="498.6" cy="48.7" r="1.4"/><circle cx="516.4" cy="51.0" r="1.4"/><circle cx="539.5" cy="53.0" r="1.4"/><circle cx="539.4" cy="53.1" r="1.4"/><circle cx="624.8" cy="102.5" r="1.4"/><circle cx="528.5" cy="50.1" r="1.4"/><circle cx="509.0" cy="49.0" r="1.4"/><circle cx="616.6" cy="93.7" r="1.4"/><circle cx="507.6" cy="48.8" r="1.4"/><circle cx="548.3" cy="54.4" r="1.4"/><circle cx="519.6" cy="50.5" r="1.4"/><circle cx="583.6" cy="67.5" r="1.4"/><circle cx="534.3" cy="51.5" r="1.4"/><circle cx="603.7" cy="80.1" r="1.4"/><circle cx="573.7" cy="62.9" r="1.4"/><circle cx="505.8" cy="49.6" r="1.4"/><circle cx="559.3" cy="58.1" r="1.4"/><circle cx="539.3" cy="53.0" r="1.4"/><circle cx="595.4" cy="73.5" r="1.4"/><circle cx="515.3" cy="49.2" r="1.4"/><circle cx="565.6" cy="60.9" r="1.4"/><circle cx="599.3" cy="78.1" r="1.4"/><circle cx="547.2" cy="54.1" r="1.4"/><circle cx="662.3" cy="170.5" r="1.4"/><circle cx="523.6" cy="51.0" r="1.4"/><circle cx="576.9" cy="64.5" r="1.4"/><circle cx="571.5" cy="64.6" r="1.4"/><circle cx="540.2" cy="52.1" r="1.4"/><circle cx="538.2" cy="52.5" r="1.4"/><circle cx="555.8" cy="57.2" r="1.4"/><circle cx="540.3" cy="53.5" r="1.4"/><circle cx="609.0" cy="86.6" r="1.4"/><circle cx="526.3" cy="51.0" r="1.4"/><circle cx="643.8" cy="131.7" r="1.4"/><circle cx="584.0" cy="71.8" r="1.4"/><circle cx="522.4" cy="50.1" r="1.4"/><circle cx="511.5" cy="50.3" r="1.4"/><circle cx="508.5" cy="50.0" r="1.4"/><circle cx="539.6" cy="52.1" r="1.4"/><circle cx="529.1" cy="50.4" r="1.4"/><circle cx="501.2" cy="48.4" r="1.4"/><circle cx="611.6" cy="88.2" r="1.4"/><circle cx="583.9" cy="67.7" r="1.4"/><circle cx="549.2" cy="53.9" r="1.4"/><circle cx="510.0" cy="49.1" r="1.4"/><circle cx="650.7" cy="143.9" r="1.4"/><circle cx="604.3" cy="81.7" r="1.4"/><circle cx="597.2" cy="76.3" r="1.4"/><circle cx="482.7" cy="48.9" r="1.4"/><circle cx="511.3" cy="49.6" r="1.4"/><circle cx="505.2" cy="49.6" r="1.4"/><circle cx="627.1" cy="104.5" r="1.4"/><circle cx="488.7" cy="48.4" r="1.4"/><circle cx="626.7" cy="108.6" r="1.4"/><circle cx="483.7" cy="47.6" r="1.4"/><circle cx="644.4" cy="131.0" r="1.4"/><circle cx="547.6" cy="56.6" r="1.4"/><circle cx="540.5" cy="52.4" r="1.4"/><circle cx="499.1" cy="48.9" r="1.4"/><circle cx="554.3" cy="55.5" r="1.4"/><circle cx="581.2" cy="69.9" r="1.4"/><circle cx="540.7" cy="54.4" r="1.4"/><circle cx="533.9" cy="51.4" r="1.4"/><circle cx="585.3" cy="67.6" r="1.4"/><circle cx="505.7" cy="50.7" r="1.4"/><circle cx="553.9" cy="54.5" r="1.4"/><circle cx="547.7" cy="54.0" r="1.4"/><circle cx="562.0" cy="58.4" r="1.4"/><circle cx="647.9" cy="139.3" r="1.4"/><circle cx="662.5" cy="170.9" r="1.4"/><circle cx="606.9" cy="84.1" r="1.4"/><circle cx="534.5" cy="53.1" r="1.4"/><circle cx="536.0" cy="52.1" r="1.4"/><circle cx="621.3" cy="98.8" r="1.4"/><circle cx="552.9" cy="55.0" r="1.4"/><circle cx="553.0" cy="55.0" r="1.4"/><circle cx="546.0" cy="54.6" r="1.4"/><circle cx="503.0" cy="50.3" r="1.4"/><circle cx="496.9" cy="47.7" r="1.4"/><circle cx="627.1" cy="104.2" r="1.4"/><circle cx="492.1" cy="48.8" r="1.4"/><circle cx="538.4" cy="51.6" r="1.4"/><circle cx="586.8" cy="69.0" r="1.4"/><circle cx="515.4" cy="49.3" r="1.4"/><circle cx="619.4" cy="96.4" r="1.4"/><circle cx="553.6" cy="55.1" r="1.4"/><circle cx="473.0" cy="47.6" r="1.4"/><circle cx="498.9" cy="48.9" r="1.4"/><circle cx="528.0" cy="50.6" r="1.4"/><circle cx="587.5" cy="68.6" r="1.4"/><circle cx="617.2" cy="93.9" r="1.4"/><circle cx="502.5" cy="48.9" r="1.4"/><circle cx="492.2" cy="48.1" r="1.4"/><circle cx="602.2" cy="78.9" r="1.4"/><circle cx="544.3" cy="53.7" r="1.4"/><circle cx="490.4" cy="48.0" r="1.4"/><circle cx="528.2" cy="51.1" r="1.4"/><circle cx="558.4" cy="56.5" r="1.4"/><circle cx="684.6" cy="233.8" r="1.4"/><circle cx="593.7" cy="73.9" r="1.4"/><circle cx="641.5" cy="126.3" r="1.4"/><circle cx="522.3" cy="50.5" r="1.4"/><circle cx="494.9" cy="48.2" r="1.4"/><circle cx="499.8" cy="49.3" r="1.4"/><circle cx="550.9" cy="55.5" r="1.4"/><circle cx="558.6" cy="57.2" r="1.4"/><circle cx="537.9" cy="51.5" r="1.4"/><circle cx="568.5" cy="62.6" r="1.4"/><circle cx="537.3" cy="51.6" r="1.4"/><circle cx="558.9" cy="57.8" r="1.4"/><circle cx="477.0" cy="48.1" r="1.4"/><circle cx="511.6" cy="49.7" r="1.4"/><circle cx="487.4" cy="47.9" r="1.4"/><circle cx="631.3" cy="112.5" r="1.4"/><circle cx="662.2" cy="174.0" r="1.4"/><circle cx="609.2" cy="86.2" r="1.4"/><circle cx="539.9" cy="52.7" r="1.4"/><circle cx="561.6" cy="56.9" r="1.4"/><circle cx="514.6" cy="48.7" r="1.4"/><circle cx="599.5" cy="78.6" r="1.4"/><circle cx="559.9" cy="56.7" r="1.4"/><circle cx="495.6" cy="49.1" r="1.4"/><circle cx="559.2" cy="57.5" r="1.4"/><circle cx="495.1" cy="48.9" r="1.4"/><circle cx="501.3" cy="48.8" r="1.4"/><circle cx="548.9" cy="55.0" r="1.4"/><circle cx="533.7" cy="51.0" r="1.4"/><circle cx="521.7" cy="50.2" r="1.4"/><circle cx="563.4" cy="57.9" r="1.4"/><circle cx="619.4" cy="95.0" r="1.4"/><circle cx="516.3" cy="51.4" r="1.4"/><circle cx="638.2" cy="123.5" r="1.4"/><circle cx="623.9" cy="102.0" r="1.4"/><circle cx="567.9" cy="61.8" r="1.4"/><circle cx="520.6" cy="50.1" r="1.4"/><circle cx="492.9" cy="48.0" r="1.4"/><circle cx="508.1" cy="49.3" r="1.4"/><circle cx="576.6" cy="63.2" r="1.4"/><circle cx="471.6" cy="48.4" r="1.4"/><circle cx="521.0" cy="49.7" r="1.4"/><circle cx="568.2" cy="59.8" r="1.4"/><circle cx="579.6" cy="65.6" r="1.4"/><circle cx="479.9" cy="48.7" r="1.4"/><circle cx="536.0" cy="51.9" r="1.4"/><circle cx="575.2" cy="62.7" r="1.4"/><circle cx="508.3" cy="50.5" r="1.4"/><circle cx="507.4" cy="49.1" r="1.4"/><circle cx="542.0" cy="52.6" r="1.4"/><circle cx="501.1" cy="49.0" r="1.4"/><circle cx="663.6" cy="172.1" r="1.4"/><circle cx="528.8" cy="51.2" r="1.4"/><circle cx="557.4" cy="58.3" r="1.4"/><circle cx="510.7" cy="49.5" r="1.4"/><circle cx="656.6" cy="156.0" r="1.4"/><circle cx="546.4" cy="53.9" r="1.4"/><circle cx="620.4" cy="96.8" r="1.4"/><circle cx="584.4" cy="67.5" r="1.4"/><circle cx="551.8" cy="55.3" r="1.4"/><circle cx="591.6" cy="73.7" r="1.4"/><circle cx="532.2" cy="51.8" r="1.4"/><circle cx="528.6" cy="51.4" r="1.4"/><circle cx="591.5" cy="71.6" r="1.4"/><circle cx="602.3" cy="82.6" r="1.4"/><circle cx="539.3" cy="53.2" r="1.4"/><circle cx="490.0" cy="48.3" r="1.4"/><circle cx="497.1" cy="48.2" r="1.4"/><circle cx="596.2" cy="74.5" r="1.4"/><circle cx="539.1" cy="53.2" r="1.4"/><circle cx="595.1" cy="76.4" r="1.4"/><circle cx="571.7" cy="61.7" r="1.4"/><circle cx="524.9" cy="50.2" r="1.4"/><circle cx="535.5" cy="52.7" r="1.4"/><circle cx="563.9" cy="58.8" r="1.4"/><circle cx="556.0" cy="56.2" r="1.4"/><circle cx="484.9" cy="47.7" r="1.4"/><circle cx="536.6" cy="52.5" r="1.4"/><circle cx="594.0" cy="73.1" r="1.4"/><circle cx="569.3" cy="59.8" r="1.4"/><circle cx="559.4" cy="56.9" r="1.4"/><circle cx="524.7" cy="51.3" r="1.4"/><circle cx="566.0" cy="59.2" r="1.4"/><circle cx="519.1" cy="50.2" r="1.4"/><circle cx="528.7" cy="50.3" r="1.4"/><circle cx="481.1" cy="48.4" r="1.4"/><circle cx="634.3" cy="115.8" r="1.4"/><circle cx="630.9" cy="111.6" r="1.4"/><circle cx="519.0" cy="50.3" r="1.4"/><circle cx="508.1" cy="49.4" r="1.4"/><circle cx="536.7" cy="51.8" r="1.4"/><circle cx="483.1" cy="48.2" r="1.4"/><circle cx="597.5" cy="74.8" r="1.4"/><circle cx="511.0" cy="49.8" r="1.4"/><circle cx="469.2" cy="48.1" r="1.4"/><circle cx="615.5" cy="91.0" r="1.4"/><circle cx="657.1" cy="157.2" r="1.4"/><circle cx="515.9" cy="49.9" r="1.4"/><circle cx="512.2" cy="50.1" r="1.4"/><circle cx="515.8" cy="50.2" r="1.4"/><circle cx="596.8" cy="76.7" r="1.4"/><circle cx="492.1" cy="48.0" r="1.4"/><circle cx="570.1" cy="61.0" r="1.4"/><circle cx="506.3" cy="49.1" r="1.4"/><circle cx="521.1" cy="50.3" r="1.4"/><circle cx="578.2" cy="66.2" r="1.4"/><circle cx="558.3" cy="57.7" r="1.4"/><circle cx="618.9" cy="98.4" r="1.4"/><circle cx="477.5" cy="47.9" r="1.4"/><circle cx="495.4" cy="48.3" r="1.4"/><circle cx="530.3" cy="51.8" r="1.4"/><circle cx="516.7" cy="48.6" r="1.4"/><circle cx="516.3" cy="50.2" r="1.4"/><circle cx="512.3" cy="49.7" r="1.4"/><circle cx="579.7" cy="67.0" r="1.4"/><circle cx="582.7" cy="66.4" r="1.4"/><circle cx="502.1" cy="48.5" r="1.4"/><circle cx="563.6" cy="62.0" r="1.4"/><circle cx="680.8" cy="220.7" r="1.4"/><circle cx="690.4" cy="255.1" r="1.4"/><circle cx="690.9" cy="255.7" r="1.4"/><circle cx="691.4" cy="257.2" r="1.4"/><circle cx="691.5" cy="257.2" r="1.4"/></g>
<polyline fill="none" stroke="#2ca02c" stroke-width="1.8" stroke-linejoin="round" points="413.90,47.60 415.31,47.60 416.71,47.60 418.11,47.60 419.51,47.60 420.91,47.60 422.32,47.60 423.72,47.60 425.12,47.60 426.52,47.60 427.92,47.60 429.33,47.60 430.73,47.60 432.13,47.60 433.53,47.60 434.93,47.60 436.34,47.60 437.74,47.60 439.14,47.60 440.54,47.60 441.94,47.60 443.35,47.60 444.75,47.60 446.15,47.60 447.55,47.60 448.95,47.60 450.36,47.60 451.76,47.60 453.16,47.60 454.56,47.60 455.96,47.60 457.37,47.60 458.77,47.60 460.17,47.60 461.57,47.60 462.97,47.60 464.38,47.60 465.78,47.60 467.18,47.60 468.58,47.60 469.98,47.60 471.39,47.60 472.79,47.60 474.19,47.60 475.59,47.60 476.99,47.60 478.40,47.60 479.80,47.60 481.20,47.60 482.60,47.60 484.00,47.60 485.41,47.60 486.81,47.60 488.21,47.60 489.61,47.60 491.01,47.60 492.42,47.60 493.82,47.60 495.22,47.60 496.62,47.60 498.02,47.60 499.43,47.60 500.83,47.60 502.23,47.60 503.63,47.60 505.03,47.60 506.44,47.60 507.84,47.61 509.24,47.61 510.64,47.61 512.04,47.61 513.45,47.61 514.85,47.61 516.25,47.61 517.65,47.61 519.05,47.62 520.46,47.62 521.86,47.62 523.26,47.62 524.66,47.63 526.06,47.63 527.47,47.63 528.87,47.64 530.27,47.64 531.67,47.65 533.07,47.65 534.48,47.66 535.88,47.66 537.28,47.67 538.68,47.68 540.08,47.69 541.49,47.70 542.89,47.71 544.29,47.72 545.69,47.74 547.09,47.75 548.50,47.77 549.90,47.79 551.30,47.80 552.70,47.83 554.10,47.85 555.51,47.88 556.91,47.90 558.31,47.93 559.71,47.97 561.11,48.00 562.52,48.04 563.92,48.08 565.32,48.13 566.72,48.18 568.12,48.24 569.53,48.29 570.93,48.36 572.33,48.43 573.73,48.50 575.13,48.58 576.54,48.67 577.94,48.77 579.34,48.87 580.74,48.98 582.14,49.10 583.55,49.22 584.95,49.36 586.35,49.51 587.75,49.66 589.15,49.83 590.56,50.02 591.96,50.21 593.36,50.42 594.76,50.65 596.16,50.89 597.57,51.14 598.97,51.42 600.37,51.72 601.77,52.03 603.17,52.37 604.58,52.73 605.98,53.11 607.38,53.52 608.78,53.96 610.18,54.42 611.59,54.92 612.99,55.45 614.39,56.01 615.79,56.61 617.19,57.24 618.60,57.92 620.00,58.64 621.40,59.40 622.80,60.21 624.20,61.07 625.61,61.99 627.01,62.96 628.41,63.98 629.81,65.07 631.21,66.22 632.62,67.45 634.02,68.74 635.42,70.11 636.82,71.55 638.22,73.08 639.63,74.70 641.03,76.41 642.43,78.21 643.83,80.12 645.23,82.13 646.64,84.26 648.04,86.50 649.44,88.86 650.84,91.36 652.24,93.98 653.65,96.75 655.05,99.67 656.45,102.74 657.85,105.97 659.25,109.38 660.66,112.96 662.06,116.72 663.46,120.68 664.86,124.85 666.26,129.22 667.67,133.82 669.07,138.65 670.47,143.72 671.87,149.04 673.27,154.63 674.68,160.49 676.08,166.64 677.48,173.10 678.88,179.86 680.28,186.95 681.69,194.38 683.09,202.16 684.49,210.32 685.89,218.86 687.29,227.80 688.70,237.16 690.10,246.95 691.50,257.20"/>
<g fill="#3aa43a" fill-opacity="0.7" stroke="#1d8c1d" stroke-width="1.05"><circle cx="477.4" cy="48.1" r="1.4"/><circle cx="603.1" cy="51.0" r="1.4"/><circle cx="515.9" cy="47.6" r="1.4"/><circle cx="686.7" cy="223.5" r="1.4"/><circle cx="528.8" cy="47.6" r="1.4"/><circle cx="470.0" cy="47.6" r="1.4"/><circle cx="468.8" cy="48.3" r="1.4"/><circle cx="479.8" cy="47.6" r="1.4"/><circle cx="501.8" cy="47.6" r="1.4"/><circle cx="538.5" cy="48.2" r="1.4"/><circle cx="507.3" cy="48.9" r="1.4"/><circle cx="504.0" cy="47.7" r="1.4"/><circle cx="546.4" cy="48.9" r="1.4"/><circle cx="626.8" cy="63.5" r="1.4"/><circle cx="690.3" cy="248.9" r="1.4"/><circle cx="605.5" cy="53.8" r="1.4"/><circle cx="534.6" cy="48.0" r="1.4"/><circle cx="569.2" cy="48.3" r="1.4"/><circle cx="594.0" cy="51.6" r="1.4"/><circle cx="503.3" cy="48.3" r="1.4"/><circle cx="467.9" cy="47.6" r="1.4"/><circle cx="508.0" cy="49.2" r="1.4"/><circle cx="593.8" cy="50.5" r="1.4"/><circle cx="506.3" cy="47.6" r="1.4"/><circle cx="633.6" cy="68.3" r="1.4"/><circle cx="608.4" cy="53.8" r="1.4"/><circle cx="508.9" cy="47.6" r="1.4"/><circle cx="528.2" cy="47.6" r="1.4"/><circle cx="578.2" cy="48.6" r="1.4"/><circle cx="634.6" cy="68.2" r="1.4"/><circle cx="558.2" cy="49.2" r="1.4"/><circle cx="515.6" cy="47.7" r="1.4"/><circle cx="491.9" cy="47.8" r="1.4"/><circle cx="512.3" cy="47.6" r="1.4"/><circle cx="534.7" cy="47.8" r="1.4"/><circle cx="508.1" cy="47.6" r="1.4"/><circle cx="586.0" cy="49.3" r="1.4"/><circle cx="566.4" cy="49.6" r="1.4"/><circle cx="549.9" cy="48.6" r="1.4"/><circle cx="585.5" cy="49.6" r="1.4"/><circle cx="567.5" cy="49.1" r="1.4"/><circle cx="560.0" cy="48.4" r="1.4"/><circle cx="666.9" cy="130.7" r="1.4"/><circle cx="537.4" cy="48.7" r="1.4"/><circle cx="548.2" cy="48.5" r="1.4"/><circle cx="511.2" cy="47.6" r="1.4"/><circle cx="500.3" cy="48.0" r="1.4"/><circle cx="510.5" cy="47.6" r="1.4"/><circle cx="527.7" cy="47.6" r="1.4"/><circle cx="580.1" cy="48.4" r="1.4"/><circle cx="502.3" cy="48.0" r="1.4"/><circle cx="643.6" cy="79.7" r="1.4"/><circle cx="517.3" cy="47.6" r="1.4"/><circle cx="512.5" cy="47.6" r="1.4"/><circle cx="527.9" cy="48.4" r="1.4"/><circle cx="563.2" cy="47.7" r="1.4"/><circle cx="531.8" cy="47.6" r="1.4"/><circle cx="607.1" cy="54.0" r="1.4"/><circle cx="633.4" cy="68.9" r="1.4"/><circle cx="529.4" cy="47.6" r="1.4"/><circle cx="535.5" cy="47.6" r="1.4"/><circle cx="534.2" cy="47.6" r="1.4"/><circle cx="518.9" cy="48.4" r="1.4"/><circle cx="533.4" cy="47.6" r="1.4"/><circle cx="596.5" cy="51.6" r="1.4"/><circle cx="516.6" cy="48.9" r="1.4"/><circle cx="480.9" cy="48.0" r="1.4"/><circle cx="513.0" cy="47.6" r="1.4"/><circle cx="561.4" cy="47.7" r="1.4"/><circle cx="537.2" cy="47.6" r="1.4"/><circle cx="645.5" cy="82.0" r="1.4"/><circle cx="625.9" cy="61.1" r="1.4"/><circle cx="629.3" cy="65.5" r="1.4"/><circle cx="468.8" cy="48.4" r="1.4"/><circle cx="529.2" cy="47.6" r="1.4"/><circle cx="488.5" cy="47.6" r="1.4"/><circle cx="489.5" cy="47.9" r="1.4"/><circle cx="677.3" cy="172.7" r="1.4"/><circle cx="617.0" cy="57.3" r="1.4"/><circle cx="600.9" cy="51.9" r="1.4"/><circle cx="481.9" cy="48.1" r="1.4"/><circle cx="523.7" cy="48.3" r="1.4"/><circle cx="539.5" cy="47.8" r="1.4"/><circle cx="500.1" cy="47.7" r="1.4"/><circle cx="498.6" cy="48.2" r="1.4"/><circle cx="516.4" cy="47.8" r="1.4"/><circle cx="539.5" cy="47.6" r="1.4"/><circle cx="539.4" cy="47.6" r="1.4"/><circle cx="624.8" cy="62.5" r="1.4"/><circle cx="528.5" cy="47.8" r="1.4"/><circle cx="509.0" cy="48.9" r="1.4"/><circle cx="616.6" cy="56.9" r="1.4"/><circle cx="507.6" cy="47.6" r="1.4"/><circle cx="548.3" cy="47.6" r="1.4"/><circle cx="519.6" cy="47.7" r="1.4"/><circle cx="583.6" cy="49.6" r="1.4"/><circle cx="534.3" cy="47.6" r="1.4"/><circle cx="603.7" cy="51.9" r="1.4"/><circle cx="573.7" cy="49.7" r="1.4"/><circle cx="505.8" cy="47.9" r="1.4"/><circle cx="559.3" cy="48.2" r="1.4"/><circle cx="539.3" cy="48.0" r="1.4"/><circle cx="595.4" cy="51.3" r="1.4"/><circle cx="515.3" cy="47.6" r="1.4"/><circle cx="565.6" cy="47.9" r="1.4"/><circle cx="599.3" cy="51.0" r="1.4"/><circle cx="547.2" cy="48.1" r="1.4"/><circle cx="662.3" cy="116.6" r="1.4"/><circle cx="523.6" cy="47.7" r="1.4"/><circle cx="576.9" cy="49.1" r="1.4"/><circle cx="571.5" cy="49.5" r="1.4"/><circle cx="540.2" cy="47.6" r="1.4"/><circle cx="538.2" cy="48.4" r="1.4"/><circle cx="555.8" cy="48.9" r="1.4"/><circle cx="540.3" cy="47.6" r="1.4"/><circle cx="609.0" cy="54.6" r="1.4"/><circle cx="526.3" cy="47.7" r="1.4"/><circle cx="643.8" cy="79.5" r="1.4"/><circle cx="584.0" cy="50.6" r="1.4"/><circle cx="522.4" cy="47.9" r="1.4"/><circle cx="511.5" cy="47.8" r="1.4"/><circle cx="508.5" cy="47.6" r="1.4"/><circle cx="539.6" cy="47.7" r="1.4"/><circle cx="529.1" cy="47.6" r="1.4"/><circle cx="501.2" cy="47.6" r="1.4"/><circle cx="611.6" cy="54.7" r="1.4"/><circle cx="583.9" cy="49.0" r="1.4"/><circle cx="549.2" cy="48.4" r="1.4"/><circle cx="510.0" cy="47.8" r="1.4"/><circle cx="650.7" cy="91.2" r="1.4"/><circle cx="604.3" cy="53.0" r="1.4"/><circle cx="597.2" cy="50.4" r="1.4"/><circle cx="482.7" cy="47.6" r="1.4"/><circle cx="511.3" cy="47.6" r="1.4"/><circle cx="505.2" cy="47.6" r="1.4"/><circle cx="627.1" cy="63.3" r="1.4"/><circle cx="488.7" cy="47.6" r="1.4"/><circle cx="626.7" cy="63.6" r="1.4"/><circle cx="483.7" cy="47.6" r="1.4"/><circle cx="644.4" cy="80.6" r="1.4"/><circle cx="547.6" cy="48.2" r="1.4"/><circle cx="540.5" cy="48.4" r="1.4"/><circle cx="499.1" cy="48.2" r="1.4"/><circle cx="554.3" cy="47.6" r="1.4"/><circle cx="581.2" cy="50.4" r="1.4"/><circle cx="540.7" cy="48.1" r="1.4"/><circle cx="533.9" cy="48.0" r="1.4"/><circle cx="585.3" cy="48.8" r="1.4"/><circle cx="505.7" cy="47.6" r="1.4"/><circle cx="553.9" cy="48.3" r="1.4"/><circle cx="547.7" cy="47.7" r="1.4"/><circle cx="562.0" cy="49.1" r="1.4"/><circle cx="647.9" cy="86.8" r="1.4"/><circle cx="662.5" cy="118.6" r="1.4"/><circle cx="606.9" cy="53.1" r="1.4"/><circle cx="534.5" cy="47.9" r="1.4"/><circle cx="536.0" cy="47.6" r="1.4"/><circle cx="621.3" cy="59.7" r="1.4"/><circle cx="552.9" cy="47.9" r="1.4"/><circle cx="553.0" cy="47.8" r="1.4"/><circle cx="546.0" cy="47.6" r="1.4"/><circle cx="503.0" cy="47.6" r="1.4"/><circle cx="496.9" cy="48.7" r="1.4"/><circle cx="627.1" cy="64.4" r="1.4"/><circle cx="492.1" cy="47.6" r="1.4"/><circle cx="538.4" cy="47.6" r="1.4"/><circle cx="586.8" cy="49.9" r="1.4"/><circle cx="515.4" cy="47.6" r="1.4"/><circle cx="619.4" cy="57.8" r="1.4"/><circle cx="553.6" cy="47.6" r="1.4"/><circle cx="473.0" cy="48.2" r="1.4"/><circle cx="498.9" cy="47.6" r="1.4"/><circle cx="528.0" cy="48.5" r="1.4"/><circle cx="587.5" cy="49.1" r="1.4"/><circle cx="617.2" cy="57.4" r="1.4"/><circle cx="502.5" cy="48.2" r="1.4"/><circle cx="492.2" cy="47.6" r="1.4"/><circle cx="602.2" cy="51.8" r="1.4"/><circle cx="544.3" cy="47.8" r="1.4"/><circle cx="490.4" cy="47.6" r="1.4"/><circle cx="528.2" cy="49.0" r="1.4"/><circle cx="558.4" cy="48.7" r="1.4"/><circle cx="684.6" cy="211.1" r="1.4"/><circle cx="593.7" cy="50.6" r="1.4"/><circle cx="641.5" cy="76.1" r="1.4"/><circle cx="522.3" cy="47.6" r="1.4"/><circle cx="494.9" cy="47.6" r="1.4"/><circle cx="499.8" cy="47.7" r="1.4"/><circle cx="550.9" cy="48.3" r="1.4"/><circle cx="558.6" cy="47.8" r="1.4"/><circle cx="537.9" cy="48.3" r="1.4"/><circle cx="568.5" cy="49.5" r="1.4"/><circle cx="537.3" cy="48.5" r="1.4"/><circle cx="558.9" cy="48.5" r="1.4"/><circle cx="477.0" cy="47.6" r="1.4"/><circle cx="511.6" cy="47.6" r="1.4"/><circle cx="487.4" cy="47.8" r="1.4"/><circle cx="631.3" cy="66.3" r="1.4"/><circle cx="662.2" cy="117.6" r="1.4"/><circle cx="609.2" cy="53.2" r="1.4"/><circle cx="539.9" cy="47.6" r="1.4"/><circle cx="561.6" cy="47.6" r="1.4"/><circle cx="514.6" cy="48.3" r="1.4"/><circle cx="599.5" cy="52.1" r="1.4"/><circle cx="559.9" cy="47.6" r="1.4"/><circle cx="495.6" cy="48.5" r="1.4"/><circle cx="559.2" cy="48.1" r="1.4"/><circle cx="495.1" cy="47.6" r="1.4"/><circle cx="501.3" cy="48.0" r="1.4"/><circle cx="548.9" cy="48.8" r="1.4"/><circle cx="533.7" cy="47.8" r="1.4"/><circle cx="521.7" cy="47.6" r="1.4"/><circle cx="563.4" cy="47.8" r="1.4"/><circle cx="619.4" cy="58.7" r="1.4"/><circle cx="516.3" cy="47.6" r="1.4"/><circle cx="638.2" cy="72.2" r="1.4"/><circle cx="623.9" cy="60.4" r="1.4"/><circle cx="567.9" cy="48.2" r="1.4"/><circle cx="520.6" cy="47.6" r="1.4"/><circle cx="492.9" cy="47.6" r="1.4"/><circle cx="508.1" cy="47.8" r="1.4"/><circle cx="576.6" cy="49.1" r="1.4"/><circle cx="471.6" cy="47.6" r="1.4"/><circle cx="521.0" cy="47.6" r="1.4"/><circle cx="568.2" cy="48.1" r="1.4"/><circle cx="579.6" cy="48.1" r="1.4"/><circle cx="479.9" cy="48.0" r="1.4"/><circle cx="536.0" cy="47.6" r="1.4"/><circle cx="575.2" cy="48.4" r="1.4"/><circle cx="508.3" cy="48.1" r="1.4"/><circle cx="507.4" cy="47.8" r="1.4"/><circle cx="542.0" cy="47.8" r="1.4"/><circle cx="501.1" cy="47.6" r="1.4"/><circle cx="663.6" cy="121.3" r="1.4"/><circle cx="528.8" cy="48.7" r="1.4"/><circle cx="557.4" cy="49.6" r="1.4"/><circle cx="510.7" cy="47.6" r="1.4"/><circle cx="656.6" cy="102.2" r="1.4"/><circle cx="546.4" cy="47.6" r="1.4"/><circle cx="620.4" cy="58.3" r="1.4"/><circle cx="584.4" cy="49.8" r="1.4"/><circle cx="551.8" cy="48.6" r="1.4"/><circle cx="591.6" cy="49.6" r="1.4"/><circle cx="532.2" cy="47.6" r="1.4"/><circle cx="528.6" cy="48.0" r="1.4"/><circle cx="591.5" cy="50.4" r="1.4"/><circle cx="602.3" cy="52.1" r="1.4"/><circle cx="539.3" cy="48.5" r="1.4"/><circle cx="490.0" cy="47.6" r="1.4"/><circle cx="497.1" cy="47.6" r="1.4"/><circle cx="596.2" cy="51.2" r="1.4"/><circle cx="539.1" cy="48.1" r="1.4"/><circle cx="595.1" cy="51.2" r="1.4"/><circle cx="571.7" cy="47.6" r="1.4"/><circle cx="524.9" cy="48.1" r="1.4"/><circle cx="535.5" cy="48.2" r="1.4"/><circle cx="563.9" cy="48.2" r="1.4"/><circle cx="556.0" cy="48.1" r="1.4"/><circle cx="484.9" cy="47.6" r="1.4"/><circle cx="536.6" cy="47.6" r="1.4"/><circle cx="594.0" cy="50.9" r="1.4"/><circle cx="569.3" cy="49.2" r="1.4"/><circle cx="559.4" cy="48.2" r="1.4"/><circle cx="524.7" cy="48.5" r="1.4"/><circle cx="566.0" cy="48.5" r="1.4"/><circle cx="519.1" cy="47.6" r="1.4"/><circle cx="528.7" cy="47.9" r="1.4"/><circle cx="481.1" cy="47.6" r="1.4"/><circle cx="634.3" cy="68.8" r="1.4"/><circle cx="630.9" cy="66.3" r="1.4"/><circle cx="519.0" cy="47.8" r="1.4"/><circle cx="508.1" cy="47.6" r="1.4"/><circle cx="536.7" cy="47.6" r="1.4"/><circle cx="483.1" cy="47.8" r="1.4"/><circle cx="597.5" cy="51.1" r="1.4"/><circle cx="511.0" cy="48.1" r="1.4"/><circle cx="469.2" cy="47.6" r="1.4"/><circle cx="615.5" cy="56.6" r="1.4"/><circle cx="657.1" cy="103.6" r="1.4"/><circle cx="515.9" cy="47.6" r="1.4"/><circle cx="512.2" cy="47.6" r="1.4"/><circle cx="515.8" cy="47.6" r="1.4"/><circle cx="596.8" cy="51.2" r="1.4"/><circle cx="492.1" cy="47.6" r="1.4"/><circle cx="570.1" cy="48.8" r="1.4"/><circle cx="506.3" cy="47.6" r="1.4"/><circle cx="521.1" cy="48.3" r="1.4"/><circle cx="578.2" cy="49.0" r="1.4"/><circle cx="558.3" cy="48.2" r="1.4"/><circle cx="618.9" cy="58.2" r="1.4"/><circle cx="477.5" cy="48.5" r="1.4"/><circle cx="495.4" cy="48.0" r="1.4"/><circle cx="530.3" cy="47.6" r="1.4"/><circle cx="516.7" cy="47.6" r="1.4"/><circle cx="516.3" cy="47.6" r="1.4"/><circle cx="512.3" cy="47.9" r="1.4"/><circle cx="579.7" cy="49.0" r="1.4"/><circle cx="582.7" cy="48.3" r="1.4"/><circle cx="502.1" cy="47.8" r="1.4"/><circle cx="563.6" cy="47.9" r="1.4"/><circle cx="680.8" cy="189.3" r="1.4"/><circle cx="690.4" cy="249.1" r="1.4"/><circle cx="690.9" cy="253.6" r="1.4"/><circle cx="691.4" cy="256.0" r="1.4"/><circle cx="691.5" cy="257.0" r="1.4"/></g>
<rect x="397.3" y="37.5" width="307.7" height="230.1" fill="none" stroke="#505050" stroke-width="1.1"/>
<line x1="411.10" y1="267.6" x2="411.10" y2="270.8" stroke="#505050" stroke-width="1"/>
<text x="411.10" y="281" font-family='"Liberation Sans", sans-serif' font-size="9.6" fill="#2c2c2c" stroke="#2c2c2c" stroke-width="0.15" text-anchor="middle">0.0</text>
<line x1="394.1" y1="257.20" x2="397.3" y2="257.20" stroke="#505050" stroke-width="1"/>
<text x="391" y="260.40" font-family='"Liberation Sans", sans-serif' font-size="9.6" fill="#2c2c2c" stroke="#2c2c2c" stroke-width="0.15" text-anchor="end">0.0</text>
<line x1="467.18" y1="267.6" x2="467.18" y2="270.8" stroke="#505050" stroke-width="1"/>
<text x="467.18" y="281" font-family='"Liberation Sans", sans-serif' font-size="9.6" fill="#2c2c2c" stroke="#2c2c2c" stroke-width="0.15" text-anchor="middle">0.2</text>
<line x1="394.1" y1="215.28" x2="397.3" y2="215.28" stroke="#505050" stroke-width="1"/>
<text x="391" y="218.48" font-family='"Liberation Sans", sans-serif' font-size="9.6" fill="#2c2c2c" stroke="#2c2c2c" stroke-width="0.15" text-anchor="end">0.2</text>
<line x1="523.26" y1="267.6" x2="523.26" y2="270.8" stroke="#505050" stroke-width="1"/>
<text x="523.26" y="281" font-family='"Liberation Sans", sans-serif' font-size="9.6" fill="#2c2c2c" stroke="#2c2c2c" stroke-width="0.15" text-anchor="middle">0.4</text>
<line x1="394.1" y1="173.36" x2="397.3" y2="173.36" stroke="#505050" stroke-width="1"/>
<text x="391" y="176.56" font-family='"Liberation Sans", sans-serif' font-size="9.6" fill="#2c2c2c" stroke="#2c2c2c" stroke-width="0.15" text-anchor="end">0.4</text>
<line x1="579.34" y1="267.6" x2="579.34" y2="270.8" stroke="#505050" stroke-width="1"/>
<text x="579.34" y="281" font-family='"Liberation Sans", sans-serif' font-size="9.6" fill="#2c2c2c" stroke="#2c2c2c" stroke-width="0.15" text-anchor="middle">0.6</text>
<line x1="394.1" y1="131.44" x2="397.3" y2="131.44" stroke="#505050" stroke-width="1"/>
<text x="391" y="134.64" font-family='"Liberation Sans", sans-serif' font-size="9.6" fill="#2c2c2c" stroke="#2c2c2c" stroke-width="0.15" text-anchor="end">0.6</text>
<line x1="635.42" y1="267.6" x2="635.42" y2="270.8" stroke="#505050" stroke-width="1"/>
<text x="635.42" y="281" font-family='"Liberation Sans", sans-serif' font-size="9.6" fill="#2c2c2c" stroke="#2c2c2c" stroke-width="0.15" text-anchor="middle">0.8</text>
<line x1="394.1" y1="89.52" x2="397.3" y2="89.52" stroke="#505050" stroke-width="1"/>
<text x="391" y="92.72" font-family='"Liberation Sans", sans-serif' font-size="9.6" fill="#2c2c2c" stroke="#2c2c2c" stroke-width="0.15" text-anchor="end">0.8</text>
<line x1="691.50" y1="267.6" x2="691.50" y2="270.8" stroke="#505050" stroke-width="1"/>
<text x="691.50" y="281" font-family='"Liberation Sans", sans-serif' font-size="9.6" fill="#2c2c2c" stroke="#2c2c2c" stroke-width="0.15" text-anchor="middle">1.0</text>
<line x1="394.1" y1="47.60" x2="397.3" y2="47.60" stroke="#505050" stroke-width="1"/>
<text x="391" y="50.80" font-family='"Liberation Sans", sans-serif' font-size="9.6" fill="#2c2c2c" stroke="#2c2c2c" stroke-width="0.15" text-anchor="end">1.0</text>
<text x="463.6" y="115.0" font-family='"Liberation Sans", sans-serif' font-size="10.2" fill="#2a2ad0" style="white-space:pre;letter-spacing:0.25px"><tspan font-style="italic">n</tspan> = 2</text>
<text x="595.0" y="115.0" font-family='"Liberation Sans", sans-serif' font-size="10.2" fill="#e8281e" style="white-space:pre;letter-spacing:0.25px"><tspan font-style="italic">n</tspan> = 5</text>
<text x="666.2" y="115.0" font-family='"Liberation Sans", sans-serif' font-size="10.2" fill="#2f8f3a" style="white-space:pre;letter-spacing:0.05px"><tspan font-style="italic">n</tspan> = 10</text>
<text x="429.6" y="297.7" font-family='"Liberation Sans", sans-serif' font-size="15.7" fill="#111" stroke="#111" stroke-width="0.3" textLength="244.8" lengthAdjust="spacing">Proportion of largest subclone <tspan font-style="italic">f</tspan></text>
<g transform="translate(370.4,280.5) rotate(-90)"><text x="0" y="0" font-family='"Liberation Sans", sans-serif' font-size="15.7" fill="#111" stroke="#111" stroke-width="0.3" textLength="255.5" lengthAdjust="spacing">Proportion of correct estimations</text></g>
</svg>
</body></html>
